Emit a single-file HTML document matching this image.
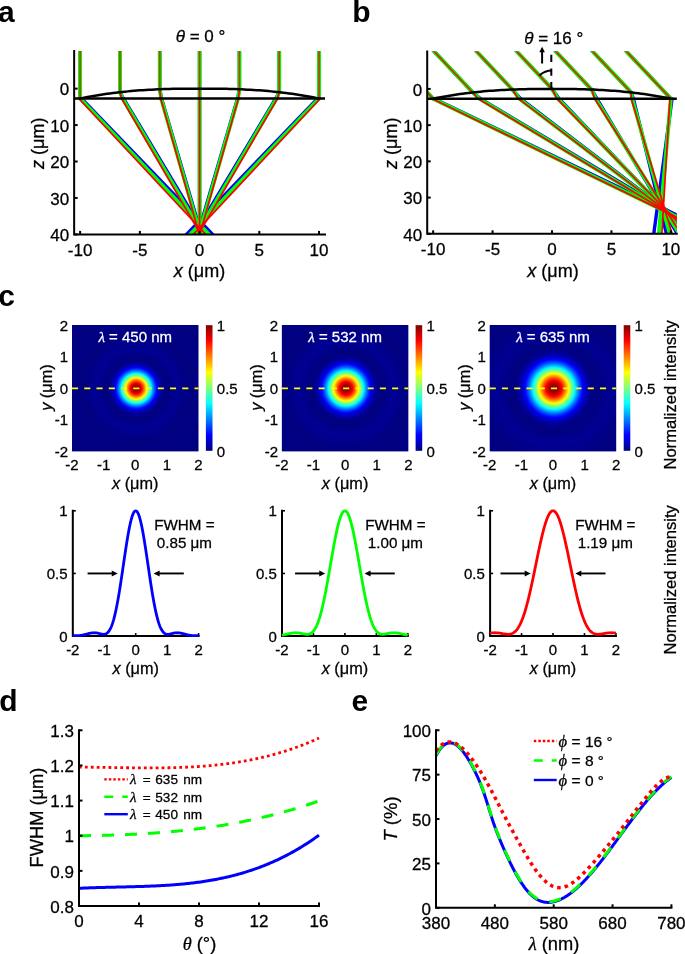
<!DOCTYPE html>
<html><head><meta charset="utf-8"><style>html,body{margin:0;padding:0;background:#fff;width:685px;height:954px;overflow:hidden}svg{display:block;will-change:transform}</style></head>
<body><svg width="685" height="954" viewBox="0 0 685 954" font-family='"Liberation Sans", sans-serif'><rect width="685" height="954" fill="#fff"/>
<text x="-2.1" y="22" font-size="30" text-anchor="start" font-weight="bold" font-style="normal" fill="#000" >a</text>
<clipPath id="clipA"><rect x="74.15" y="51.1" width="250.85" height="183.3"/></clipPath>
<g clip-path="url(#clipA)">
<polyline points="80.12,44.9 80.12,98.47 81.44,98.47 282.9,307.28" fill="none" stroke="#0000ff" stroke-width="3.4" stroke-linejoin="round" />
<polyline points="119.94,44.9 119.94,92.21 123.39,98.47 248.55,307.28" fill="none" stroke="#0000ff" stroke-width="3.4" stroke-linejoin="round" />
<polyline points="159.76,44.9 159.76,89.27 161.55,98.47 222.68,307.28" fill="none" stroke="#0000ff" stroke-width="3.4" stroke-linejoin="round" />
<polyline points="199.57,44.9 199.57,88.63 199.57,98.47 199.57,307.28" fill="none" stroke="#0000ff" stroke-width="3.4" stroke-linejoin="round" />
<polyline points="239.39,44.9 239.39,89.27 237.6,98.47 176.47,307.28" fill="none" stroke="#0000ff" stroke-width="3.4" stroke-linejoin="round" />
<polyline points="279.21,44.9 279.21,92.21 275.76,98.47 150.6,307.28" fill="none" stroke="#0000ff" stroke-width="3.4" stroke-linejoin="round" />
<polyline points="319.03,44.9 319.03,98.47 317.71,98.47 116.25,307.28" fill="none" stroke="#0000ff" stroke-width="3.4" stroke-linejoin="round" />
<polyline points="80.12,44.9 80.12,98.47 80.12,98.47 277.94,307.28" fill="none" stroke="#00ff00" stroke-width="3.9" stroke-linejoin="round" />
<polyline points="119.94,44.9 119.94,92.21 122.52,98.47 245.59,307.28" fill="none" stroke="#00ff00" stroke-width="3.9" stroke-linejoin="round" />
<polyline points="159.76,44.9 159.76,89.27 161.11,98.47 221.25,307.28" fill="none" stroke="#00ff00" stroke-width="3.9" stroke-linejoin="round" />
<polyline points="199.57,44.9 199.57,88.63 199.57,98.47 199.57,307.28" fill="none" stroke="#00ff00" stroke-width="3.9" stroke-linejoin="round" />
<polyline points="239.39,44.9 239.39,89.27 238.04,98.47 177.9,307.28" fill="none" stroke="#00ff00" stroke-width="3.9" stroke-linejoin="round" />
<polyline points="279.21,44.9 279.21,92.21 276.63,98.47 153.56,307.28" fill="none" stroke="#00ff00" stroke-width="3.9" stroke-linejoin="round" />
<polyline points="319.03,44.9 319.03,98.47 319.03,98.47 121.21,307.28" fill="none" stroke="#00ff00" stroke-width="3.9" stroke-linejoin="round" />
<polyline points="80.12,98.47 78.81,98.47 273.74,307.28" fill="none" stroke="#ff0000" stroke-width="1.7" stroke-linejoin="round" />
<polyline points="80.12,44.9 80.12,98.47" fill="none" stroke="#b84400" stroke-width="1.7" stroke-linejoin="round" />
<polyline points="119.94,92.21 121.64,98.47 243.06,307.28" fill="none" stroke="#ff0000" stroke-width="1.7" stroke-linejoin="round" />
<polyline points="119.94,44.9 119.94,92.21" fill="none" stroke="#b84400" stroke-width="1.7" stroke-linejoin="round" />
<polyline points="159.76,89.27 160.68,98.47 220.04,307.28" fill="none" stroke="#ff0000" stroke-width="1.7" stroke-linejoin="round" />
<polyline points="159.76,44.9 159.76,89.27" fill="none" stroke="#b84400" stroke-width="1.7" stroke-linejoin="round" />
<polyline points="199.57,88.63 199.57,98.47 199.57,307.28" fill="none" stroke="#ff0000" stroke-width="1.7" stroke-linejoin="round" />
<polyline points="199.57,44.9 199.57,88.63" fill="none" stroke="#b84400" stroke-width="1.7" stroke-linejoin="round" />
<polyline points="239.39,89.27 238.47,98.47 179.11,307.28" fill="none" stroke="#ff0000" stroke-width="1.7" stroke-linejoin="round" />
<polyline points="239.39,44.9 239.39,89.27" fill="none" stroke="#b84400" stroke-width="1.7" stroke-linejoin="round" />
<polyline points="279.21,92.21 277.51,98.47 156.09,307.28" fill="none" stroke="#ff0000" stroke-width="1.7" stroke-linejoin="round" />
<polyline points="279.21,44.9 279.21,92.21" fill="none" stroke="#b84400" stroke-width="1.7" stroke-linejoin="round" />
<polyline points="319.03,98.47 320.34,98.47 125.41,307.28" fill="none" stroke="#ff0000" stroke-width="1.7" stroke-linejoin="round" />
<polyline points="319.03,44.9 319.03,98.47" fill="none" stroke="#b84400" stroke-width="1.7" stroke-linejoin="round" />
</g>
<polyline points="80.12,98.47 83.11,97.87 86.1,97.29 89.08,96.73 92.07,96.2 95.05,95.68 98.04,95.19 101.03,94.72 104.01,94.27 107,93.84 109.99,93.43 112.97,93.04 115.96,92.67 118.94,92.32 121.93,91.99 124.92,91.67 127.9,91.38 130.89,91.1 133.88,90.84 136.86,90.6 139.85,90.37 142.84,90.16 145.82,89.97 148.81,89.79 151.79,89.63 154.78,89.48 157.77,89.35 160.75,89.23 163.74,89.12 166.73,89.02 169.71,88.94 172.7,88.87 175.68,88.81 178.67,88.76 181.66,88.72 184.64,88.69 187.63,88.67 190.62,88.65 193.6,88.64 196.59,88.64 199.57,88.63 202.56,88.64 205.55,88.64 208.53,88.65 211.52,88.67 214.51,88.69 217.49,88.72 220.48,88.76 223.47,88.81 226.45,88.87 229.44,88.94 232.42,89.02 235.41,89.12 238.4,89.23 241.38,89.35 244.37,89.48 247.36,89.63 250.34,89.79 253.33,89.97 256.31,90.16 259.3,90.37 262.29,90.6 265.27,90.84 268.26,91.1 271.25,91.38 274.23,91.67 277.22,91.99 280.21,92.32 283.19,92.67 286.18,93.04 289.16,93.43 292.15,93.84 295.14,94.27 298.12,94.72 301.11,95.19 304.1,95.68 307.08,96.2 310.07,96.73 313.05,97.29 316.04,97.87 319.03,98.47" fill="none" stroke="#000" stroke-width="2.5" stroke-linejoin="round" />
<line x1="74.15" y1="98.47" x2="325" y2="98.47" stroke="#000" stroke-width="2.4" />
<path d="M74.15,51.1 L74.15,234.4 L325,234.4" fill="none" stroke="#000" stroke-width="2" stroke-linecap="square"/>
<line x1="80.12" y1="234.4" x2="80.12" y2="230.9" stroke="#000" stroke-width="2" />
<text x="80.12" y="255.7" font-size="17" text-anchor="middle" font-weight="normal" font-style="normal" fill="#000" stroke="#000" stroke-width="0.28" >-10</text>
<line x1="139.85" y1="234.4" x2="139.85" y2="230.9" stroke="#000" stroke-width="2" />
<text x="139.85" y="255.7" font-size="17" text-anchor="middle" font-weight="normal" font-style="normal" fill="#000" stroke="#000" stroke-width="0.28" >-5</text>
<line x1="199.57" y1="234.4" x2="199.57" y2="230.9" stroke="#000" stroke-width="2" />
<text x="199.57" y="255.7" font-size="17" text-anchor="middle" font-weight="normal" font-style="normal" fill="#000" stroke="#000" stroke-width="0.28" >0</text>
<line x1="259.3" y1="234.4" x2="259.3" y2="230.9" stroke="#000" stroke-width="2" />
<text x="259.3" y="255.7" font-size="17" text-anchor="middle" font-weight="normal" font-style="normal" fill="#000" stroke="#000" stroke-width="0.28" >5</text>
<line x1="319.03" y1="234.4" x2="319.03" y2="230.9" stroke="#000" stroke-width="2" />
<text x="319.03" y="255.7" font-size="17" text-anchor="middle" font-weight="normal" font-style="normal" fill="#000" stroke="#000" stroke-width="0.28" >10</text>
<line x1="74.15" y1="88.63" x2="77.65" y2="88.63" stroke="#000" stroke-width="2" />
<text x="69.15" y="95.33" font-size="17" text-anchor="end" font-weight="normal" font-style="normal" fill="#000" stroke="#000" stroke-width="0.28" >0</text>
<line x1="74.15" y1="125.08" x2="77.65" y2="125.08" stroke="#000" stroke-width="2" />
<text x="69.15" y="131.78" font-size="17" text-anchor="end" font-weight="normal" font-style="normal" fill="#000" stroke="#000" stroke-width="0.28" >10</text>
<line x1="74.15" y1="161.52" x2="77.65" y2="161.52" stroke="#000" stroke-width="2" />
<text x="69.15" y="168.22" font-size="17" text-anchor="end" font-weight="normal" font-style="normal" fill="#000" stroke="#000" stroke-width="0.28" >20</text>
<line x1="74.15" y1="197.96" x2="77.65" y2="197.96" stroke="#000" stroke-width="2" />
<text x="69.15" y="204.66" font-size="17" text-anchor="end" font-weight="normal" font-style="normal" fill="#000" stroke="#000" stroke-width="0.28" >30</text>
<line x1="74.15" y1="234.4" x2="77.65" y2="234.4" stroke="#000" stroke-width="2" />
<text x="69.15" y="241.1" font-size="17" text-anchor="end" font-weight="normal" font-style="normal" fill="#000" stroke="#000" stroke-width="0.28" >40</text>
<text x="200.5" y="41.5" font-size="17" text-anchor="middle" font-weight="normal" font-style="normal" fill="#000" stroke="#000" stroke-width="0.28" ><tspan font-style="italic">θ</tspan> = 0 °</text>
<text x="199.5" y="277" font-size="18" text-anchor="middle" font-weight="normal" font-style="normal" fill="#000" stroke="#000" stroke-width="0.28" ><tspan font-style="italic">x</tspan> (μm)</text>
<text x="0" y="0" font-size="18" text-anchor="middle" font-weight="normal" font-style="normal" fill="#000" stroke="#000" stroke-width="0.28" transform="translate(43.5,143.3) rotate(-90)"><tspan font-style="italic">z</tspan> (μm)</text>
<text x="352.3" y="22" font-size="30" text-anchor="start" font-weight="bold" font-style="normal" fill="#000" >b</text>
<clipPath id="clipB"><rect x="427.2" y="51.6" width="249.59999999999997" height="182.20000000000002"/></clipPath>
<g clip-path="url(#clipB)">
<polyline points="383.04,45.44 433.14,98.69 434.33,98.69 866.58,306.25" fill="none" stroke="#0000ff" stroke-width="3.4" stroke-linejoin="round" />
<polyline points="428.52,45.44 472.76,92.46 480.38,98.69 827.3,306.25" fill="none" stroke="#0000ff" stroke-width="3.4" stroke-linejoin="round" />
<polyline points="470.89,45.44 512.38,89.54 520.51,98.69 791.98,306.25" fill="none" stroke="#0000ff" stroke-width="3.4" stroke-linejoin="round" />
<polyline points="511.1,45.44 552,88.91 559.07,98.69 756.65,306.25" fill="none" stroke="#0000ff" stroke-width="3.4" stroke-linejoin="round" />
<polyline points="550.13,45.44 591.62,89.54 596.84,98.69 720.56,306.25" fill="none" stroke="#0000ff" stroke-width="3.4" stroke-linejoin="round" />
<polyline points="587,45.44 631.24,92.46 633.33,98.69 684.23,306.25" fill="none" stroke="#0000ff" stroke-width="3.4" stroke-linejoin="round" />
<polyline points="620.76,45.44 670.86,98.69 672.05,98.69 643.97,306.25" fill="none" stroke="#0000ff" stroke-width="3.4" stroke-linejoin="round" />
<polyline points="383.04,45.44 433.14,98.69 433.14,98.69 860.91,306.25" fill="none" stroke="#00ff00" stroke-width="3.9" stroke-linejoin="round" />
<polyline points="428.52,45.44 472.76,92.46 479.19,98.69 824.12,306.25" fill="none" stroke="#00ff00" stroke-width="3.9" stroke-linejoin="round" />
<polyline points="470.89,45.44 512.38,89.54 519.32,98.69 791.05,306.25" fill="none" stroke="#00ff00" stroke-width="3.9" stroke-linejoin="round" />
<polyline points="511.1,45.44 552,88.91 557.88,98.69 757.96,306.25" fill="none" stroke="#00ff00" stroke-width="3.9" stroke-linejoin="round" />
<polyline points="550.13,45.44 591.62,89.54 595.65,98.69 724.16,306.25" fill="none" stroke="#00ff00" stroke-width="3.9" stroke-linejoin="round" />
<polyline points="587,45.44 631.24,92.46 632.14,98.69 690.12,306.25" fill="none" stroke="#00ff00" stroke-width="3.9" stroke-linejoin="round" />
<polyline points="620.76,45.44 670.86,98.69 670.86,98.69 652.41,306.25" fill="none" stroke="#00ff00" stroke-width="3.9" stroke-linejoin="round" />
<polyline points="433.14,98.69 432.19,98.69 859.94,306.25" fill="none" stroke="#ff0000" stroke-width="1.7" stroke-linejoin="round" />
<polyline points="383.04,45.44 433.14,98.69" fill="none" stroke="#e02800" stroke-width="1.7" stroke-linejoin="round" />
<polyline points="472.76,92.46 478.24,98.69 824.22,306.25" fill="none" stroke="#ff0000" stroke-width="1.7" stroke-linejoin="round" />
<polyline points="428.52,45.44 472.76,92.46" fill="none" stroke="#e02800" stroke-width="1.7" stroke-linejoin="round" />
<polyline points="512.38,89.54 518.37,98.69 792.12,306.25" fill="none" stroke="#ff0000" stroke-width="1.7" stroke-linejoin="round" />
<polyline points="470.89,45.44 512.38,89.54" fill="none" stroke="#e02800" stroke-width="1.7" stroke-linejoin="round" />
<polyline points="552,88.91 556.93,98.69 760.01,306.25" fill="none" stroke="#ff0000" stroke-width="1.7" stroke-linejoin="round" />
<polyline points="511.1,45.44 552,88.91" fill="none" stroke="#e02800" stroke-width="1.7" stroke-linejoin="round" />
<polyline points="591.62,89.54 594.7,98.69 727.2,306.25" fill="none" stroke="#ff0000" stroke-width="1.7" stroke-linejoin="round" />
<polyline points="550.13,45.44 591.62,89.54" fill="none" stroke="#e02800" stroke-width="1.7" stroke-linejoin="round" />
<polyline points="631.24,92.46 631.19,98.69 694.16,306.25" fill="none" stroke="#ff0000" stroke-width="1.7" stroke-linejoin="round" />
<polyline points="587,45.44 631.24,92.46" fill="none" stroke="#e02800" stroke-width="1.7" stroke-linejoin="round" />
<polyline points="670.86,98.69 669.91,98.69 657.54,306.25" fill="none" stroke="#ff0000" stroke-width="1.7" stroke-linejoin="round" />
<polyline points="620.76,45.44 670.86,98.69" fill="none" stroke="#e02800" stroke-width="1.7" stroke-linejoin="round" />
</g>
<polyline points="433.14,98.69 436.11,98.09 439.09,97.51 442.06,96.96 445.03,96.42 448,95.91 450.97,95.42 453.94,94.96 456.91,94.51 459.89,94.08 462.86,93.67 465.83,93.29 468.8,92.92 471.77,92.57 474.74,92.24 477.71,91.93 480.69,91.64 483.66,91.36 486.63,91.1 489.6,90.86 492.57,90.64 495.54,90.43 498.51,90.24 501.49,90.06 504.46,89.9 507.43,89.75 510.4,89.62 513.37,89.5 516.34,89.39 519.31,89.3 522.29,89.21 525.26,89.14 528.23,89.08 531.2,89.03 534.17,88.99 537.14,88.96 540.11,88.94 543.09,88.92 546.06,88.91 549.03,88.91 552,88.91 554.97,88.91 557.94,88.91 560.91,88.92 563.89,88.94 566.86,88.96 569.83,88.99 572.8,89.03 575.77,89.08 578.74,89.14 581.71,89.21 584.69,89.3 587.66,89.39 590.63,89.5 593.6,89.62 596.57,89.75 599.54,89.9 602.51,90.06 605.49,90.24 608.46,90.43 611.43,90.64 614.4,90.86 617.37,91.1 620.34,91.36 623.31,91.64 626.29,91.93 629.26,92.24 632.23,92.57 635.2,92.92 638.17,93.29 641.14,93.67 644.11,94.08 647.09,94.51 650.06,94.96 653.03,95.42 656,95.91 658.97,96.42 661.94,96.96 664.91,97.51 667.89,98.09 670.86,98.69" fill="none" stroke="#000" stroke-width="2.5" stroke-linejoin="round" />
<line x1="427.2" y1="98.69" x2="676.8" y2="98.69" stroke="#000" stroke-width="2.4" />
<path d="M427.2,51.6 L427.2,233.8 L676.8,233.8" fill="none" stroke="#000" stroke-width="2" stroke-linecap="square"/>
<line x1="433.14" y1="233.8" x2="433.14" y2="230.3" stroke="#000" stroke-width="2" />
<text x="433.14" y="255.1" font-size="17" text-anchor="middle" font-weight="normal" font-style="normal" fill="#000" stroke="#000" stroke-width="0.28" >-10</text>
<line x1="492.57" y1="233.8" x2="492.57" y2="230.3" stroke="#000" stroke-width="2" />
<text x="492.57" y="255.1" font-size="17" text-anchor="middle" font-weight="normal" font-style="normal" fill="#000" stroke="#000" stroke-width="0.28" >-5</text>
<line x1="552" y1="233.8" x2="552" y2="230.3" stroke="#000" stroke-width="2" />
<text x="552" y="255.1" font-size="17" text-anchor="middle" font-weight="normal" font-style="normal" fill="#000" stroke="#000" stroke-width="0.28" >0</text>
<line x1="611.43" y1="233.8" x2="611.43" y2="230.3" stroke="#000" stroke-width="2" />
<text x="611.43" y="255.1" font-size="17" text-anchor="middle" font-weight="normal" font-style="normal" fill="#000" stroke="#000" stroke-width="0.28" >5</text>
<line x1="670.86" y1="233.8" x2="670.86" y2="230.3" stroke="#000" stroke-width="2" />
<text x="670.86" y="255.1" font-size="17" text-anchor="middle" font-weight="normal" font-style="normal" fill="#000" stroke="#000" stroke-width="0.28" >10</text>
<line x1="427.2" y1="88.91" x2="430.7" y2="88.91" stroke="#000" stroke-width="2" />
<text x="422.2" y="95.61" font-size="17" text-anchor="end" font-weight="normal" font-style="normal" fill="#000" stroke="#000" stroke-width="0.28" >0</text>
<line x1="427.2" y1="125.13" x2="430.7" y2="125.13" stroke="#000" stroke-width="2" />
<text x="422.2" y="131.83" font-size="17" text-anchor="end" font-weight="normal" font-style="normal" fill="#000" stroke="#000" stroke-width="0.28" >10</text>
<line x1="427.2" y1="161.35" x2="430.7" y2="161.35" stroke="#000" stroke-width="2" />
<text x="422.2" y="168.05" font-size="17" text-anchor="end" font-weight="normal" font-style="normal" fill="#000" stroke="#000" stroke-width="0.28" >20</text>
<line x1="427.2" y1="197.58" x2="430.7" y2="197.58" stroke="#000" stroke-width="2" />
<text x="422.2" y="204.28" font-size="17" text-anchor="end" font-weight="normal" font-style="normal" fill="#000" stroke="#000" stroke-width="0.28" >30</text>
<line x1="427.2" y1="233.8" x2="430.7" y2="233.8" stroke="#000" stroke-width="2" />
<text x="422.2" y="240.5" font-size="17" text-anchor="end" font-weight="normal" font-style="normal" fill="#000" stroke="#000" stroke-width="0.28" >40</text>
<line x1="551.3" y1="54.8" x2="551.3" y2="88.91" stroke="#000" stroke-width="2" stroke-dasharray="7.3,6.3"/>
<line x1="542.1" y1="63.5" x2="542.1" y2="51.3" stroke="#000" stroke-width="2" />
<polygon points="542.1,46.8 544.9,52.3 539.3,52.3" fill="#000"/>
<path d="M539.5,75.54 A18.3,18.3 0 0 1 552,70.61" fill="none" stroke="#000" stroke-width="2"/>
<text x="553.7" y="43.5" font-size="17" text-anchor="middle" font-weight="normal" font-style="normal" fill="#000" stroke="#000" stroke-width="0.28" ><tspan font-style="italic">θ</tspan> = 16 °</text>
<text x="553" y="277" font-size="18" text-anchor="middle" font-weight="normal" font-style="normal" fill="#000" stroke="#000" stroke-width="0.28" ><tspan font-style="italic">x</tspan> (μm)</text>
<text x="0" y="0" font-size="18" text-anchor="middle" font-weight="normal" font-style="normal" fill="#000" stroke="#000" stroke-width="0.28" transform="translate(397,143.3) rotate(-90)"><tspan font-style="italic">z</tspan> (μm)</text>
<text x="-1.7" y="306.1" font-size="30" text-anchor="start" font-weight="bold" font-style="normal" fill="#000" >c</text>
<defs><radialGradient id="rg1" gradientUnits="userSpaceOnUse" cx="136.15" cy="388.4" r="93.41"><stop offset="0.0000" stop-color="#800000"/><stop offset="0.0063" stop-color="#810000"/><stop offset="0.0126" stop-color="#850000"/><stop offset="0.0189" stop-color="#8c0000"/><stop offset="0.0252" stop-color="#960000"/><stop offset="0.0314" stop-color="#a20000"/><stop offset="0.0377" stop-color="#b10000"/><stop offset="0.0440" stop-color="#c30000"/><stop offset="0.0503" stop-color="#d70000"/><stop offset="0.0566" stop-color="#ed0000"/><stop offset="0.0629" stop-color="#ff0600"/><stop offset="0.0692" stop-color="#ff2000"/><stop offset="0.0755" stop-color="#ff3c00"/><stop offset="0.0818" stop-color="#ff5900"/><stop offset="0.0881" stop-color="#ff7800"/><stop offset="0.0943" stop-color="#ff9800"/><stop offset="0.1006" stop-color="#ffb800"/><stop offset="0.1069" stop-color="#ffda00"/><stop offset="0.1132" stop-color="#fffc00"/><stop offset="0.1195" stop-color="#dfff20"/><stop offset="0.1258" stop-color="#bcff43"/><stop offset="0.1321" stop-color="#99ff66"/><stop offset="0.1384" stop-color="#76ff89"/><stop offset="0.1447" stop-color="#54ffab"/><stop offset="0.1509" stop-color="#32ffcd"/><stop offset="0.1572" stop-color="#11ffee"/><stop offset="0.1635" stop-color="#00f0ff"/><stop offset="0.1698" stop-color="#00d0ff"/><stop offset="0.1761" stop-color="#00b2ff"/><stop offset="0.1824" stop-color="#0095ff"/><stop offset="0.1887" stop-color="#007aff"/><stop offset="0.1950" stop-color="#005fff"/><stop offset="0.2013" stop-color="#0047ff"/><stop offset="0.2075" stop-color="#002fff"/><stop offset="0.2138" stop-color="#001aff"/><stop offset="0.2201" stop-color="#0006ff"/><stop offset="0.2264" stop-color="#0000f2"/><stop offset="0.2327" stop-color="#0000e1"/><stop offset="0.2390" stop-color="#0000d2"/><stop offset="0.2453" stop-color="#0000c4"/><stop offset="0.2516" stop-color="#0000b7"/><stop offset="0.2579" stop-color="#0000ad"/><stop offset="0.2642" stop-color="#0000a3"/><stop offset="0.2704" stop-color="#00009b"/><stop offset="0.2767" stop-color="#000094"/><stop offset="0.2830" stop-color="#00008e"/><stop offset="0.2893" stop-color="#00008a"/><stop offset="0.2956" stop-color="#000086"/><stop offset="0.3019" stop-color="#000083"/><stop offset="0.3082" stop-color="#000081"/><stop offset="0.3145" stop-color="#000080"/><stop offset="0.3208" stop-color="#000080"/><stop offset="0.3270" stop-color="#000080"/><stop offset="0.3333" stop-color="#000080"/><stop offset="0.3396" stop-color="#000081"/><stop offset="0.3459" stop-color="#000082"/><stop offset="0.3522" stop-color="#000083"/><stop offset="0.3585" stop-color="#000085"/><stop offset="0.3648" stop-color="#000086"/><stop offset="0.3711" stop-color="#000088"/><stop offset="0.3774" stop-color="#000089"/><stop offset="0.3836" stop-color="#00008b"/><stop offset="0.3899" stop-color="#00008c"/><stop offset="0.3962" stop-color="#00008e"/><stop offset="0.4025" stop-color="#00008f"/><stop offset="0.4088" stop-color="#000090"/><stop offset="0.4151" stop-color="#000090"/><stop offset="0.4214" stop-color="#000091"/><stop offset="0.4277" stop-color="#000091"/><stop offset="0.4340" stop-color="#000091"/><stop offset="0.4403" stop-color="#000091"/><stop offset="0.4465" stop-color="#000091"/><stop offset="0.4528" stop-color="#000091"/><stop offset="0.4591" stop-color="#000090"/><stop offset="0.4654" stop-color="#00008f"/><stop offset="0.4717" stop-color="#00008e"/><stop offset="0.4780" stop-color="#00008d"/><stop offset="0.4843" stop-color="#00008c"/><stop offset="0.4906" stop-color="#00008b"/><stop offset="0.4969" stop-color="#00008a"/><stop offset="0.5031" stop-color="#000089"/><stop offset="0.5094" stop-color="#000088"/><stop offset="0.5157" stop-color="#000087"/><stop offset="0.5220" stop-color="#000086"/><stop offset="0.5283" stop-color="#000085"/><stop offset="0.5346" stop-color="#000084"/><stop offset="0.5409" stop-color="#000083"/><stop offset="0.5472" stop-color="#000082"/><stop offset="0.5535" stop-color="#000081"/><stop offset="0.5597" stop-color="#000081"/><stop offset="0.5660" stop-color="#000080"/><stop offset="0.5723" stop-color="#000080"/><stop offset="0.5786" stop-color="#000080"/><stop offset="0.5849" stop-color="#000080"/><stop offset="0.5912" stop-color="#000080"/><stop offset="0.5975" stop-color="#000080"/><stop offset="0.6038" stop-color="#000080"/><stop offset="0.6101" stop-color="#000080"/><stop offset="0.6164" stop-color="#000080"/><stop offset="0.6226" stop-color="#000080"/><stop offset="0.6289" stop-color="#000081"/><stop offset="0.6352" stop-color="#000081"/><stop offset="0.6415" stop-color="#000081"/><stop offset="0.6478" stop-color="#000082"/><stop offset="0.6541" stop-color="#000082"/><stop offset="0.6604" stop-color="#000082"/><stop offset="0.6667" stop-color="#000083"/><stop offset="0.6730" stop-color="#000083"/><stop offset="0.6792" stop-color="#000083"/><stop offset="0.6855" stop-color="#000083"/><stop offset="0.6918" stop-color="#000084"/><stop offset="0.6981" stop-color="#000084"/><stop offset="0.7044" stop-color="#000084"/><stop offset="0.7107" stop-color="#000084"/><stop offset="0.7170" stop-color="#000084"/><stop offset="0.7233" stop-color="#000084"/><stop offset="0.7296" stop-color="#000084"/><stop offset="0.7358" stop-color="#000083"/><stop offset="0.7421" stop-color="#000083"/><stop offset="0.7484" stop-color="#000083"/><stop offset="0.7547" stop-color="#000083"/><stop offset="0.7610" stop-color="#000083"/><stop offset="0.7673" stop-color="#000082"/><stop offset="0.7736" stop-color="#000082"/><stop offset="0.7799" stop-color="#000082"/><stop offset="0.7862" stop-color="#000081"/><stop offset="0.7925" stop-color="#000081"/><stop offset="0.7987" stop-color="#000081"/><stop offset="0.8050" stop-color="#000081"/><stop offset="0.8113" stop-color="#000080"/><stop offset="0.8176" stop-color="#000080"/><stop offset="0.8239" stop-color="#000080"/><stop offset="0.8302" stop-color="#000080"/><stop offset="0.8365" stop-color="#000080"/><stop offset="0.8428" stop-color="#000080"/><stop offset="0.8491" stop-color="#000080"/><stop offset="0.8553" stop-color="#000080"/><stop offset="0.8616" stop-color="#000080"/><stop offset="0.8679" stop-color="#000080"/><stop offset="0.8742" stop-color="#000080"/><stop offset="0.8805" stop-color="#000080"/><stop offset="0.8868" stop-color="#000080"/><stop offset="0.8931" stop-color="#000080"/><stop offset="0.8994" stop-color="#000080"/><stop offset="0.9057" stop-color="#000080"/><stop offset="0.9119" stop-color="#000080"/><stop offset="0.9182" stop-color="#000080"/><stop offset="0.9245" stop-color="#000080"/><stop offset="0.9308" stop-color="#000081"/><stop offset="0.9371" stop-color="#000081"/><stop offset="0.9434" stop-color="#000081"/><stop offset="0.9497" stop-color="#000081"/><stop offset="0.9560" stop-color="#000081"/><stop offset="0.9623" stop-color="#000081"/><stop offset="0.9686" stop-color="#000081"/><stop offset="0.9748" stop-color="#000081"/><stop offset="0.9811" stop-color="#000081"/><stop offset="0.9874" stop-color="#000081"/><stop offset="0.9937" stop-color="#000081"/><stop offset="1.0000" stop-color="#000081"/></radialGradient></defs>
<rect x="72" y="325" width="126.5" height="126.4" fill="url(#rg1)"/>
<line x1="72" y1="388.4" x2="198.5" y2="388.4" stroke="#ffff00" stroke-width="1.6" stroke-dasharray="6.1,6.15"/>
<text x="135.25" y="342.3" font-size="15" text-anchor="middle" font-weight="normal" font-style="normal" fill="#fff" stroke="#fff" stroke-width="0.28" ><tspan font-family="Liberation Serif" font-style="italic">λ</tspan> = 450 nm</text>
<defs><linearGradient id="cb1" x1="0" y1="0" x2="0" y2="1"><stop offset="0.0000" stop-color="#800000"/><stop offset="0.0156" stop-color="#8f0000"/><stop offset="0.0312" stop-color="#9f0000"/><stop offset="0.0469" stop-color="#af0000"/><stop offset="0.0625" stop-color="#bf0000"/><stop offset="0.0781" stop-color="#cf0000"/><stop offset="0.0938" stop-color="#df0000"/><stop offset="0.1094" stop-color="#ef0000"/><stop offset="0.1250" stop-color="#ff0000"/><stop offset="0.1406" stop-color="#ff1000"/><stop offset="0.1562" stop-color="#ff2000"/><stop offset="0.1719" stop-color="#ff3000"/><stop offset="0.1875" stop-color="#ff4000"/><stop offset="0.2031" stop-color="#ff5000"/><stop offset="0.2188" stop-color="#ff6000"/><stop offset="0.2344" stop-color="#ff7000"/><stop offset="0.2500" stop-color="#ff8000"/><stop offset="0.2656" stop-color="#ff8f00"/><stop offset="0.2812" stop-color="#ff9f00"/><stop offset="0.2969" stop-color="#ffaf00"/><stop offset="0.3125" stop-color="#ffbf00"/><stop offset="0.3281" stop-color="#ffcf00"/><stop offset="0.3438" stop-color="#ffdf00"/><stop offset="0.3594" stop-color="#ffef00"/><stop offset="0.3750" stop-color="#ffff00"/><stop offset="0.3906" stop-color="#efff10"/><stop offset="0.4062" stop-color="#dfff20"/><stop offset="0.4219" stop-color="#cfff30"/><stop offset="0.4375" stop-color="#bfff40"/><stop offset="0.4531" stop-color="#afff50"/><stop offset="0.4688" stop-color="#9fff60"/><stop offset="0.4844" stop-color="#8fff70"/><stop offset="0.5000" stop-color="#80ff80"/><stop offset="0.5156" stop-color="#70ff8f"/><stop offset="0.5312" stop-color="#60ff9f"/><stop offset="0.5469" stop-color="#50ffaf"/><stop offset="0.5625" stop-color="#40ffbf"/><stop offset="0.5781" stop-color="#30ffcf"/><stop offset="0.5938" stop-color="#20ffdf"/><stop offset="0.6094" stop-color="#10ffef"/><stop offset="0.6250" stop-color="#00ffff"/><stop offset="0.6406" stop-color="#00efff"/><stop offset="0.6562" stop-color="#00dfff"/><stop offset="0.6719" stop-color="#00cfff"/><stop offset="0.6875" stop-color="#00bfff"/><stop offset="0.7031" stop-color="#00afff"/><stop offset="0.7188" stop-color="#009fff"/><stop offset="0.7344" stop-color="#008fff"/><stop offset="0.7500" stop-color="#0080ff"/><stop offset="0.7656" stop-color="#0070ff"/><stop offset="0.7812" stop-color="#0060ff"/><stop offset="0.7969" stop-color="#0050ff"/><stop offset="0.8125" stop-color="#0040ff"/><stop offset="0.8281" stop-color="#0030ff"/><stop offset="0.8438" stop-color="#0020ff"/><stop offset="0.8594" stop-color="#0010ff"/><stop offset="0.8750" stop-color="#0000ff"/><stop offset="0.8906" stop-color="#0000ef"/><stop offset="0.9062" stop-color="#0000df"/><stop offset="0.9219" stop-color="#0000cf"/><stop offset="0.9375" stop-color="#0000bf"/><stop offset="0.9531" stop-color="#0000af"/><stop offset="0.9688" stop-color="#00009f"/><stop offset="0.9844" stop-color="#00008f"/><stop offset="1.0000" stop-color="#000080"/></linearGradient></defs>
<rect x="205.9" y="325.2" width="6.6" height="125.6" fill="url(#cb1)"/>
<text x="216.8" y="330.6" font-size="15" text-anchor="start" font-weight="normal" font-style="normal" fill="#000" stroke="#000" stroke-width="0.28" >1</text>
<text x="216.8" y="393.8" font-size="15" text-anchor="start" font-weight="normal" font-style="normal" fill="#000" stroke="#000" stroke-width="0.28" >0.5</text>
<text x="216.8" y="457" font-size="15" text-anchor="start" font-weight="normal" font-style="normal" fill="#000" stroke="#000" stroke-width="0.28" >0</text>
<text x="72" y="469.7" font-size="15" text-anchor="middle" font-weight="normal" font-style="normal" fill="#000" stroke="#000" stroke-width="0.28" >-2</text>
<text x="68.2" y="456.9" font-size="15" text-anchor="end" font-weight="normal" font-style="normal" fill="#000" stroke="#000" stroke-width="0.28" >-2</text>
<text x="103.62" y="469.7" font-size="15" text-anchor="middle" font-weight="normal" font-style="normal" fill="#000" stroke="#000" stroke-width="0.28" >-1</text>
<text x="68.2" y="425.3" font-size="15" text-anchor="end" font-weight="normal" font-style="normal" fill="#000" stroke="#000" stroke-width="0.28" >-1</text>
<text x="135.25" y="469.7" font-size="15" text-anchor="middle" font-weight="normal" font-style="normal" fill="#000" stroke="#000" stroke-width="0.28" >0</text>
<text x="68.2" y="393.7" font-size="15" text-anchor="end" font-weight="normal" font-style="normal" fill="#000" stroke="#000" stroke-width="0.28" >0</text>
<text x="166.88" y="469.7" font-size="15" text-anchor="middle" font-weight="normal" font-style="normal" fill="#000" stroke="#000" stroke-width="0.28" >1</text>
<text x="68.2" y="362.1" font-size="15" text-anchor="end" font-weight="normal" font-style="normal" fill="#000" stroke="#000" stroke-width="0.28" >1</text>
<text x="198.5" y="469.7" font-size="15" text-anchor="middle" font-weight="normal" font-style="normal" fill="#000" stroke="#000" stroke-width="0.28" >2</text>
<text x="68.2" y="330.5" font-size="15" text-anchor="end" font-weight="normal" font-style="normal" fill="#000" stroke="#000" stroke-width="0.28" >2</text>
<text x="135.25" y="488.5" font-size="16.3" text-anchor="middle" font-weight="normal" font-style="normal" fill="#000" stroke="#000" stroke-width="0.28" ><tspan font-style="italic">x</tspan> (μm)</text>
<text x="0" y="0" font-size="16.3" text-anchor="middle" font-weight="normal" font-style="normal" fill="#000" stroke="#000" stroke-width="0.28" transform="translate(52.2,387.6) rotate(-90)"><tspan font-style="italic">y</tspan> (μm)</text>
<path d="M72.8,510.8 L72.8,636.1 L198.6,636.1" fill="none" stroke="#000" stroke-width="2" stroke-linecap="square"/>
<line x1="72.8" y1="636.1" x2="72.8" y2="633.1" stroke="#000" stroke-width="1.6" />
<text x="72.8" y="655.3" font-size="15" text-anchor="middle" font-weight="normal" font-style="normal" fill="#000" stroke="#000" stroke-width="0.28" >-2</text>
<line x1="104.25" y1="636.1" x2="104.25" y2="633.1" stroke="#000" stroke-width="1.6" />
<text x="104.25" y="655.3" font-size="15" text-anchor="middle" font-weight="normal" font-style="normal" fill="#000" stroke="#000" stroke-width="0.28" >-1</text>
<line x1="135.7" y1="636.1" x2="135.7" y2="633.1" stroke="#000" stroke-width="1.6" />
<text x="135.7" y="655.3" font-size="15" text-anchor="middle" font-weight="normal" font-style="normal" fill="#000" stroke="#000" stroke-width="0.28" >0</text>
<line x1="167.15" y1="636.1" x2="167.15" y2="633.1" stroke="#000" stroke-width="1.6" />
<text x="167.15" y="655.3" font-size="15" text-anchor="middle" font-weight="normal" font-style="normal" fill="#000" stroke="#000" stroke-width="0.28" >1</text>
<line x1="198.6" y1="636.1" x2="198.6" y2="633.1" stroke="#000" stroke-width="1.6" />
<text x="198.6" y="655.3" font-size="15" text-anchor="middle" font-weight="normal" font-style="normal" fill="#000" stroke="#000" stroke-width="0.28" >2</text>
<line x1="72.8" y1="636.1" x2="75.8" y2="636.1" stroke="#000" stroke-width="1.6" />
<text x="67.6" y="641.7" font-size="15" text-anchor="end" font-weight="normal" font-style="normal" fill="#000" stroke="#000" stroke-width="0.28" >0</text>
<line x1="72.8" y1="573.45" x2="75.8" y2="573.45" stroke="#000" stroke-width="1.6" />
<text x="67.6" y="579.05" font-size="15" text-anchor="end" font-weight="normal" font-style="normal" fill="#000" stroke="#000" stroke-width="0.28" >0.5</text>
<line x1="72.8" y1="510.8" x2="75.8" y2="510.8" stroke="#000" stroke-width="1.6" />
<text x="67.6" y="516.4" font-size="15" text-anchor="end" font-weight="normal" font-style="normal" fill="#000" stroke="#000" stroke-width="0.28" >1</text>
<polyline points="72.8,635.52 73.43,635.55 74.06,635.57 74.69,635.59 75.32,635.61 75.94,635.62 76.57,635.62 77.2,635.61 77.83,635.6 78.46,635.57 79.09,635.53 79.72,635.48 80.35,635.41 80.98,635.33 81.61,635.24 82.23,635.13 82.86,635.01 83.49,634.88 84.12,634.74 84.75,634.59 85.38,634.43 86.01,634.26 86.64,634.1 87.27,633.93 87.9,633.76 88.52,633.6 89.15,633.44 89.78,633.3 90.41,633.17 91.04,633.05 91.67,632.95 92.3,632.87 92.93,632.81 93.56,632.78 94.19,632.77 94.81,632.79 95.44,632.83 96.07,632.89 96.7,632.98 97.33,633.09 97.96,633.22 98.59,633.37 99.22,633.52 99.85,633.68 100.48,633.83 101.1,633.98 101.73,634.11 102.36,634.21 102.99,634.28 103.62,634.3 104.25,634.27 104.88,634.17 105.51,633.99 106.14,633.73 106.77,633.36 107.39,632.88 108.02,632.27 108.65,631.53 109.28,630.64 109.91,629.59 110.54,628.37 111.17,626.98 111.8,625.41 112.43,623.65 113.06,621.7 113.69,619.55 114.31,617.2 114.94,614.65 115.57,611.91 116.2,608.97 116.83,605.84 117.46,602.54 118.09,599.06 118.72,595.42 119.35,591.64 119.97,587.72 120.6,583.69 121.23,579.57 121.86,575.36 122.49,571.1 123.12,566.81 123.75,562.51 124.38,558.22 125.01,553.98 125.64,549.79 126.26,545.7 126.89,541.73 127.52,537.9 128.15,534.24 128.78,530.76 129.41,527.51 130.04,524.49 130.67,521.72 131.3,519.24 131.93,517.05 132.56,515.17 133.18,513.61 133.81,512.39 134.44,511.51 135.07,510.98 135.7,510.8 136.33,510.98 136.96,511.51 137.59,512.39 138.22,513.61 138.84,515.17 139.47,517.05 140.1,519.24 140.73,521.72 141.36,524.49 141.99,527.51 142.62,530.76 143.25,534.24 143.88,537.9 144.51,541.73 145.13,545.7 145.76,549.79 146.39,553.98 147.02,558.22 147.65,562.51 148.28,566.81 148.91,571.1 149.54,575.36 150.17,579.57 150.8,583.69 151.43,587.72 152.05,591.64 152.68,595.42 153.31,599.06 153.94,602.54 154.57,605.84 155.2,608.97 155.83,611.91 156.46,614.65 157.09,617.2 157.72,619.55 158.34,621.7 158.97,623.65 159.6,625.41 160.23,626.98 160.86,628.37 161.49,629.59 162.12,630.64 162.75,631.53 163.38,632.27 164,632.88 164.63,633.36 165.26,633.73 165.89,633.99 166.52,634.17 167.15,634.27 167.78,634.3 168.41,634.28 169.04,634.21 169.67,634.11 170.3,633.98 170.92,633.83 171.55,633.68 172.18,633.52 172.81,633.37 173.44,633.22 174.07,633.09 174.7,632.98 175.33,632.89 175.96,632.83 176.59,632.79 177.21,632.77 177.84,632.78 178.47,632.81 179.1,632.87 179.73,632.95 180.36,633.05 180.99,633.17 181.62,633.3 182.25,633.44 182.88,633.6 183.5,633.76 184.13,633.93 184.76,634.1 185.39,634.26 186.02,634.43 186.65,634.59 187.28,634.74 187.91,634.88 188.54,635.01 189.17,635.13 189.79,635.24 190.42,635.33 191.05,635.41 191.68,635.48 192.31,635.53 192.94,635.57 193.57,635.6 194.2,635.61 194.83,635.62 195.45,635.62 196.08,635.61 196.71,635.59 197.34,635.57 197.97,635.55 198.6,635.52" fill="none" stroke="#0000ff" stroke-width="2.8" stroke-linejoin="round" />
<text x="135.7" y="673.5" font-size="16.3" text-anchor="middle" font-weight="normal" font-style="normal" fill="#000" stroke="#000" stroke-width="0.28" ><tspan font-style="italic">x</tspan> (μm)</text>
<line x1="87.58" y1="573.45" x2="112.77" y2="573.45" stroke="#000" stroke-width="1.9" />
<polygon points="117.77,573.45 111.77,576.45 111.77,570.45" fill="#000"/>
<line x1="183.82" y1="573.45" x2="158.63" y2="573.45" stroke="#000" stroke-width="1.9" />
<polygon points="153.63,573.45 159.63,570.45 159.63,576.45" fill="#000"/>
<text x="184.4" y="530.3" font-size="15.2" text-anchor="middle" font-weight="normal" font-style="normal" fill="#000" stroke="#000" stroke-width="0.28" >FWHM =</text>
<text x="184.4" y="548.3" font-size="15.2" text-anchor="middle" font-weight="normal" font-style="normal" fill="#000" stroke="#000" stroke-width="0.28" >0.85 μm</text>
<defs><radialGradient id="rg2" gradientUnits="userSpaceOnUse" cx="346" cy="388.4" r="93.41"><stop offset="0.0000" stop-color="#800000"/><stop offset="0.0063" stop-color="#810000"/><stop offset="0.0126" stop-color="#840000"/><stop offset="0.0189" stop-color="#890000"/><stop offset="0.0252" stop-color="#900000"/><stop offset="0.0314" stop-color="#990000"/><stop offset="0.0377" stop-color="#a40000"/><stop offset="0.0440" stop-color="#b00000"/><stop offset="0.0503" stop-color="#bf0000"/><stop offset="0.0566" stop-color="#cf0000"/><stop offset="0.0629" stop-color="#e10000"/><stop offset="0.0692" stop-color="#f50000"/><stop offset="0.0755" stop-color="#ff0b00"/><stop offset="0.0818" stop-color="#ff2100"/><stop offset="0.0881" stop-color="#ff3900"/><stop offset="0.0943" stop-color="#ff5100"/><stop offset="0.1006" stop-color="#ff6b00"/><stop offset="0.1069" stop-color="#ff8600"/><stop offset="0.1132" stop-color="#ffa100"/><stop offset="0.1195" stop-color="#ffbd00"/><stop offset="0.1258" stop-color="#ffda00"/><stop offset="0.1321" stop-color="#fff700"/><stop offset="0.1384" stop-color="#e9ff16"/><stop offset="0.1447" stop-color="#ccff33"/><stop offset="0.1509" stop-color="#aeff51"/><stop offset="0.1572" stop-color="#90ff6f"/><stop offset="0.1635" stop-color="#73ff8c"/><stop offset="0.1698" stop-color="#56ffa9"/><stop offset="0.1761" stop-color="#39ffc6"/><stop offset="0.1824" stop-color="#1dffe2"/><stop offset="0.1887" stop-color="#01fffe"/><stop offset="0.1950" stop-color="#00e5ff"/><stop offset="0.2013" stop-color="#00caff"/><stop offset="0.2075" stop-color="#00b1ff"/><stop offset="0.2138" stop-color="#0098ff"/><stop offset="0.2201" stop-color="#0080ff"/><stop offset="0.2264" stop-color="#006aff"/><stop offset="0.2327" stop-color="#0054ff"/><stop offset="0.2390" stop-color="#003fff"/><stop offset="0.2453" stop-color="#002cff"/><stop offset="0.2516" stop-color="#001aff"/><stop offset="0.2579" stop-color="#0008ff"/><stop offset="0.2642" stop-color="#0000f7"/><stop offset="0.2704" stop-color="#0000e8"/><stop offset="0.2767" stop-color="#0000db"/><stop offset="0.2830" stop-color="#0000ce"/><stop offset="0.2893" stop-color="#0000c3"/><stop offset="0.2956" stop-color="#0000b8"/><stop offset="0.3019" stop-color="#0000af"/><stop offset="0.3082" stop-color="#0000a6"/><stop offset="0.3145" stop-color="#00009f"/><stop offset="0.3208" stop-color="#000098"/><stop offset="0.3270" stop-color="#000093"/><stop offset="0.3333" stop-color="#00008e"/><stop offset="0.3396" stop-color="#00008a"/><stop offset="0.3459" stop-color="#000087"/><stop offset="0.3522" stop-color="#000084"/><stop offset="0.3585" stop-color="#000082"/><stop offset="0.3648" stop-color="#000081"/><stop offset="0.3711" stop-color="#000080"/><stop offset="0.3774" stop-color="#000080"/><stop offset="0.3836" stop-color="#000080"/><stop offset="0.3899" stop-color="#000080"/><stop offset="0.3962" stop-color="#000080"/><stop offset="0.4025" stop-color="#000081"/><stop offset="0.4088" stop-color="#000082"/><stop offset="0.4151" stop-color="#000083"/><stop offset="0.4214" stop-color="#000085"/><stop offset="0.4277" stop-color="#000086"/><stop offset="0.4340" stop-color="#000087"/><stop offset="0.4403" stop-color="#000089"/><stop offset="0.4465" stop-color="#00008a"/><stop offset="0.4528" stop-color="#00008b"/><stop offset="0.4591" stop-color="#00008c"/><stop offset="0.4654" stop-color="#00008e"/><stop offset="0.4717" stop-color="#00008e"/><stop offset="0.4780" stop-color="#00008f"/><stop offset="0.4843" stop-color="#000090"/><stop offset="0.4906" stop-color="#000091"/><stop offset="0.4969" stop-color="#000091"/><stop offset="0.5031" stop-color="#000091"/><stop offset="0.5094" stop-color="#000091"/><stop offset="0.5157" stop-color="#000091"/><stop offset="0.5220" stop-color="#000091"/><stop offset="0.5283" stop-color="#000091"/><stop offset="0.5346" stop-color="#000090"/><stop offset="0.5409" stop-color="#000090"/><stop offset="0.5472" stop-color="#00008f"/><stop offset="0.5535" stop-color="#00008f"/><stop offset="0.5597" stop-color="#00008e"/><stop offset="0.5660" stop-color="#00008d"/><stop offset="0.5723" stop-color="#00008c"/><stop offset="0.5786" stop-color="#00008b"/><stop offset="0.5849" stop-color="#00008a"/><stop offset="0.5912" stop-color="#000089"/><stop offset="0.5975" stop-color="#000088"/><stop offset="0.6038" stop-color="#000087"/><stop offset="0.6101" stop-color="#000086"/><stop offset="0.6164" stop-color="#000085"/><stop offset="0.6226" stop-color="#000084"/><stop offset="0.6289" stop-color="#000084"/><stop offset="0.6352" stop-color="#000083"/><stop offset="0.6415" stop-color="#000082"/><stop offset="0.6478" stop-color="#000082"/><stop offset="0.6541" stop-color="#000081"/><stop offset="0.6604" stop-color="#000081"/><stop offset="0.6667" stop-color="#000080"/><stop offset="0.6730" stop-color="#000080"/><stop offset="0.6792" stop-color="#000080"/><stop offset="0.6855" stop-color="#000080"/><stop offset="0.6918" stop-color="#000080"/><stop offset="0.6981" stop-color="#000080"/><stop offset="0.7044" stop-color="#000080"/><stop offset="0.7107" stop-color="#000080"/><stop offset="0.7170" stop-color="#000080"/><stop offset="0.7233" stop-color="#000080"/><stop offset="0.7296" stop-color="#000080"/><stop offset="0.7358" stop-color="#000080"/><stop offset="0.7421" stop-color="#000081"/><stop offset="0.7484" stop-color="#000081"/><stop offset="0.7547" stop-color="#000081"/><stop offset="0.7610" stop-color="#000082"/><stop offset="0.7673" stop-color="#000082"/><stop offset="0.7736" stop-color="#000082"/><stop offset="0.7799" stop-color="#000082"/><stop offset="0.7862" stop-color="#000083"/><stop offset="0.7925" stop-color="#000083"/><stop offset="0.7987" stop-color="#000083"/><stop offset="0.8050" stop-color="#000083"/><stop offset="0.8113" stop-color="#000083"/><stop offset="0.8176" stop-color="#000084"/><stop offset="0.8239" stop-color="#000084"/><stop offset="0.8302" stop-color="#000084"/><stop offset="0.8365" stop-color="#000084"/><stop offset="0.8428" stop-color="#000084"/><stop offset="0.8491" stop-color="#000084"/><stop offset="0.8553" stop-color="#000084"/><stop offset="0.8616" stop-color="#000084"/><stop offset="0.8679" stop-color="#000083"/><stop offset="0.8742" stop-color="#000083"/><stop offset="0.8805" stop-color="#000083"/><stop offset="0.8868" stop-color="#000083"/><stop offset="0.8931" stop-color="#000083"/><stop offset="0.8994" stop-color="#000082"/><stop offset="0.9057" stop-color="#000082"/><stop offset="0.9119" stop-color="#000082"/><stop offset="0.9182" stop-color="#000082"/><stop offset="0.9245" stop-color="#000081"/><stop offset="0.9308" stop-color="#000081"/><stop offset="0.9371" stop-color="#000081"/><stop offset="0.9434" stop-color="#000081"/><stop offset="0.9497" stop-color="#000081"/><stop offset="0.9560" stop-color="#000080"/><stop offset="0.9623" stop-color="#000080"/><stop offset="0.9686" stop-color="#000080"/><stop offset="0.9748" stop-color="#000080"/><stop offset="0.9811" stop-color="#000080"/><stop offset="0.9874" stop-color="#000080"/><stop offset="0.9937" stop-color="#000080"/><stop offset="1.0000" stop-color="#000080"/></radialGradient></defs>
<rect x="281.85" y="325" width="126.5" height="126.4" fill="url(#rg2)"/>
<line x1="281.85" y1="388.4" x2="408.35" y2="388.4" stroke="#ffff00" stroke-width="1.6" stroke-dasharray="6.1,6.15"/>
<text x="345.1" y="342.3" font-size="15" text-anchor="middle" font-weight="normal" font-style="normal" fill="#fff" stroke="#fff" stroke-width="0.28" ><tspan font-family="Liberation Serif" font-style="italic">λ</tspan> = 532 nm</text>
<defs><linearGradient id="cb2" x1="0" y1="0" x2="0" y2="1"><stop offset="0.0000" stop-color="#800000"/><stop offset="0.0156" stop-color="#8f0000"/><stop offset="0.0312" stop-color="#9f0000"/><stop offset="0.0469" stop-color="#af0000"/><stop offset="0.0625" stop-color="#bf0000"/><stop offset="0.0781" stop-color="#cf0000"/><stop offset="0.0938" stop-color="#df0000"/><stop offset="0.1094" stop-color="#ef0000"/><stop offset="0.1250" stop-color="#ff0000"/><stop offset="0.1406" stop-color="#ff1000"/><stop offset="0.1562" stop-color="#ff2000"/><stop offset="0.1719" stop-color="#ff3000"/><stop offset="0.1875" stop-color="#ff4000"/><stop offset="0.2031" stop-color="#ff5000"/><stop offset="0.2188" stop-color="#ff6000"/><stop offset="0.2344" stop-color="#ff7000"/><stop offset="0.2500" stop-color="#ff8000"/><stop offset="0.2656" stop-color="#ff8f00"/><stop offset="0.2812" stop-color="#ff9f00"/><stop offset="0.2969" stop-color="#ffaf00"/><stop offset="0.3125" stop-color="#ffbf00"/><stop offset="0.3281" stop-color="#ffcf00"/><stop offset="0.3438" stop-color="#ffdf00"/><stop offset="0.3594" stop-color="#ffef00"/><stop offset="0.3750" stop-color="#ffff00"/><stop offset="0.3906" stop-color="#efff10"/><stop offset="0.4062" stop-color="#dfff20"/><stop offset="0.4219" stop-color="#cfff30"/><stop offset="0.4375" stop-color="#bfff40"/><stop offset="0.4531" stop-color="#afff50"/><stop offset="0.4688" stop-color="#9fff60"/><stop offset="0.4844" stop-color="#8fff70"/><stop offset="0.5000" stop-color="#80ff80"/><stop offset="0.5156" stop-color="#70ff8f"/><stop offset="0.5312" stop-color="#60ff9f"/><stop offset="0.5469" stop-color="#50ffaf"/><stop offset="0.5625" stop-color="#40ffbf"/><stop offset="0.5781" stop-color="#30ffcf"/><stop offset="0.5938" stop-color="#20ffdf"/><stop offset="0.6094" stop-color="#10ffef"/><stop offset="0.6250" stop-color="#00ffff"/><stop offset="0.6406" stop-color="#00efff"/><stop offset="0.6562" stop-color="#00dfff"/><stop offset="0.6719" stop-color="#00cfff"/><stop offset="0.6875" stop-color="#00bfff"/><stop offset="0.7031" stop-color="#00afff"/><stop offset="0.7188" stop-color="#009fff"/><stop offset="0.7344" stop-color="#008fff"/><stop offset="0.7500" stop-color="#0080ff"/><stop offset="0.7656" stop-color="#0070ff"/><stop offset="0.7812" stop-color="#0060ff"/><stop offset="0.7969" stop-color="#0050ff"/><stop offset="0.8125" stop-color="#0040ff"/><stop offset="0.8281" stop-color="#0030ff"/><stop offset="0.8438" stop-color="#0020ff"/><stop offset="0.8594" stop-color="#0010ff"/><stop offset="0.8750" stop-color="#0000ff"/><stop offset="0.8906" stop-color="#0000ef"/><stop offset="0.9062" stop-color="#0000df"/><stop offset="0.9219" stop-color="#0000cf"/><stop offset="0.9375" stop-color="#0000bf"/><stop offset="0.9531" stop-color="#0000af"/><stop offset="0.9688" stop-color="#00009f"/><stop offset="0.9844" stop-color="#00008f"/><stop offset="1.0000" stop-color="#000080"/></linearGradient></defs>
<rect x="415.6" y="325.2" width="6.6" height="125.6" fill="url(#cb2)"/>
<text x="426.5" y="330.6" font-size="15" text-anchor="start" font-weight="normal" font-style="normal" fill="#000" stroke="#000" stroke-width="0.28" >1</text>
<text x="426.5" y="393.8" font-size="15" text-anchor="start" font-weight="normal" font-style="normal" fill="#000" stroke="#000" stroke-width="0.28" >0.5</text>
<text x="426.5" y="457" font-size="15" text-anchor="start" font-weight="normal" font-style="normal" fill="#000" stroke="#000" stroke-width="0.28" >0</text>
<text x="281.85" y="469.7" font-size="15" text-anchor="middle" font-weight="normal" font-style="normal" fill="#000" stroke="#000" stroke-width="0.28" >-2</text>
<text x="278.05" y="456.9" font-size="15" text-anchor="end" font-weight="normal" font-style="normal" fill="#000" stroke="#000" stroke-width="0.28" >-2</text>
<text x="313.48" y="469.7" font-size="15" text-anchor="middle" font-weight="normal" font-style="normal" fill="#000" stroke="#000" stroke-width="0.28" >-1</text>
<text x="278.05" y="425.3" font-size="15" text-anchor="end" font-weight="normal" font-style="normal" fill="#000" stroke="#000" stroke-width="0.28" >-1</text>
<text x="345.1" y="469.7" font-size="15" text-anchor="middle" font-weight="normal" font-style="normal" fill="#000" stroke="#000" stroke-width="0.28" >0</text>
<text x="278.05" y="393.7" font-size="15" text-anchor="end" font-weight="normal" font-style="normal" fill="#000" stroke="#000" stroke-width="0.28" >0</text>
<text x="376.73" y="469.7" font-size="15" text-anchor="middle" font-weight="normal" font-style="normal" fill="#000" stroke="#000" stroke-width="0.28" >1</text>
<text x="278.05" y="362.1" font-size="15" text-anchor="end" font-weight="normal" font-style="normal" fill="#000" stroke="#000" stroke-width="0.28" >1</text>
<text x="408.35" y="469.7" font-size="15" text-anchor="middle" font-weight="normal" font-style="normal" fill="#000" stroke="#000" stroke-width="0.28" >2</text>
<text x="278.05" y="330.5" font-size="15" text-anchor="end" font-weight="normal" font-style="normal" fill="#000" stroke="#000" stroke-width="0.28" >2</text>
<text x="345.1" y="488.5" font-size="16.3" text-anchor="middle" font-weight="normal" font-style="normal" fill="#000" stroke="#000" stroke-width="0.28" ><tspan font-style="italic">x</tspan> (μm)</text>
<text x="0" y="0" font-size="16.3" text-anchor="middle" font-weight="normal" font-style="normal" fill="#000" stroke="#000" stroke-width="0.28" transform="translate(262.05,387.6) rotate(-90)"><tspan font-style="italic">y</tspan> (μm)</text>
<path d="M282,510.8 L282,636.1 L407.8,636.1" fill="none" stroke="#000" stroke-width="2" stroke-linecap="square"/>
<line x1="282" y1="636.1" x2="282" y2="633.1" stroke="#000" stroke-width="1.6" />
<text x="282" y="655.3" font-size="15" text-anchor="middle" font-weight="normal" font-style="normal" fill="#000" stroke="#000" stroke-width="0.28" >-2</text>
<line x1="313.45" y1="636.1" x2="313.45" y2="633.1" stroke="#000" stroke-width="1.6" />
<text x="313.45" y="655.3" font-size="15" text-anchor="middle" font-weight="normal" font-style="normal" fill="#000" stroke="#000" stroke-width="0.28" >-1</text>
<line x1="344.9" y1="636.1" x2="344.9" y2="633.1" stroke="#000" stroke-width="1.6" />
<text x="344.9" y="655.3" font-size="15" text-anchor="middle" font-weight="normal" font-style="normal" fill="#000" stroke="#000" stroke-width="0.28" >0</text>
<line x1="376.35" y1="636.1" x2="376.35" y2="633.1" stroke="#000" stroke-width="1.6" />
<text x="376.35" y="655.3" font-size="15" text-anchor="middle" font-weight="normal" font-style="normal" fill="#000" stroke="#000" stroke-width="0.28" >1</text>
<line x1="407.8" y1="636.1" x2="407.8" y2="633.1" stroke="#000" stroke-width="1.6" />
<text x="407.8" y="655.3" font-size="15" text-anchor="middle" font-weight="normal" font-style="normal" fill="#000" stroke="#000" stroke-width="0.28" >2</text>
<line x1="282" y1="636.1" x2="285" y2="636.1" stroke="#000" stroke-width="1.6" />
<text x="276.8" y="641.7" font-size="15" text-anchor="end" font-weight="normal" font-style="normal" fill="#000" stroke="#000" stroke-width="0.28" >0</text>
<line x1="282" y1="573.45" x2="285" y2="573.45" stroke="#000" stroke-width="1.6" />
<text x="276.8" y="579.05" font-size="15" text-anchor="end" font-weight="normal" font-style="normal" fill="#000" stroke="#000" stroke-width="0.28" >0.5</text>
<line x1="282" y1="510.8" x2="285" y2="510.8" stroke="#000" stroke-width="1.6" />
<text x="276.8" y="516.4" font-size="15" text-anchor="end" font-weight="normal" font-style="normal" fill="#000" stroke="#000" stroke-width="0.28" >1</text>
<polyline points="282,635.13 282.63,635.03 283.26,634.92 283.89,634.8 284.52,634.68 285.14,634.55 285.77,634.41 286.4,634.27 287.03,634.13 287.66,633.99 288.29,633.84 288.92,633.7 289.55,633.57 290.18,633.44 290.81,633.31 291.44,633.2 292.06,633.09 292.69,633 293.32,632.92 293.95,632.86 294.58,632.81 295.21,632.78 295.84,632.77 296.47,632.78 297.1,632.8 297.73,632.84 298.35,632.9 298.98,632.98 299.61,633.07 300.24,633.18 300.87,633.29 301.5,633.42 302.13,633.55 302.76,633.68 303.39,633.82 304.01,633.94 304.64,634.06 305.27,634.16 305.9,634.24 306.53,634.29 307.16,634.3 307.79,634.28 308.42,634.21 309.05,634.09 309.68,633.9 310.31,633.65 310.93,633.32 311.56,632.9 312.19,632.4 312.82,631.8 313.45,631.1 314.08,630.29 314.71,629.36 315.34,628.31 315.97,627.13 316.6,625.82 317.22,624.38 317.85,622.8 318.48,621.07 319.11,619.21 319.74,617.2 320.37,615.04 321,612.75 321.63,610.31 322.26,607.74 322.88,605.03 323.51,602.2 324.14,599.24 324.77,596.16 325.4,592.98 326.03,589.7 326.66,586.33 327.29,582.88 327.92,579.36 328.55,575.79 329.18,572.17 329.8,568.53 330.43,564.88 331.06,561.22 331.69,557.58 332.32,553.98 332.95,550.42 333.58,546.92 334.21,543.5 334.84,540.18 335.47,536.97 336.09,533.88 336.72,530.93 337.35,528.14 337.98,525.52 338.61,523.07 339.24,520.82 339.87,518.78 340.5,516.95 341.13,515.34 341.75,513.97 342.38,512.84 343.01,511.95 343.64,511.31 344.27,510.93 344.9,510.8 345.53,510.93 346.16,511.31 346.79,511.95 347.42,512.84 348.05,513.97 348.67,515.34 349.3,516.95 349.93,518.78 350.56,520.82 351.19,523.07 351.82,525.52 352.45,528.14 353.08,530.93 353.71,533.88 354.34,536.97 354.96,540.18 355.59,543.5 356.22,546.92 356.85,550.42 357.48,553.98 358.11,557.58 358.74,561.22 359.37,564.88 360,568.53 360.62,572.17 361.25,575.79 361.88,579.36 362.51,582.88 363.14,586.33 363.77,589.7 364.4,592.98 365.03,596.16 365.66,599.24 366.29,602.2 366.92,605.03 367.54,607.74 368.17,610.31 368.8,612.75 369.43,615.04 370.06,617.2 370.69,619.21 371.32,621.07 371.95,622.8 372.58,624.38 373.21,625.82 373.83,627.13 374.46,628.31 375.09,629.36 375.72,630.29 376.35,631.1 376.98,631.8 377.61,632.4 378.24,632.9 378.87,633.32 379.5,633.65 380.12,633.9 380.75,634.09 381.38,634.21 382.01,634.28 382.64,634.3 383.27,634.29 383.9,634.24 384.53,634.16 385.16,634.06 385.79,633.94 386.41,633.82 387.04,633.68 387.67,633.55 388.3,633.42 388.93,633.29 389.56,633.18 390.19,633.07 390.82,632.98 391.45,632.9 392.08,632.84 392.7,632.8 393.33,632.78 393.96,632.77 394.59,632.78 395.22,632.81 395.85,632.86 396.48,632.92 397.11,633 397.74,633.09 398.37,633.2 398.99,633.31 399.62,633.44 400.25,633.57 400.88,633.7 401.51,633.84 402.14,633.99 402.77,634.13 403.4,634.27 404.03,634.41 404.66,634.55 405.28,634.68 405.91,634.8 406.54,634.92 407.17,635.03 407.8,635.13" fill="none" stroke="#00ff00" stroke-width="2.8" stroke-linejoin="round" />
<text x="344.9" y="673.5" font-size="16.3" text-anchor="middle" font-weight="normal" font-style="normal" fill="#000" stroke="#000" stroke-width="0.28" ><tspan font-style="italic">x</tspan> (μm)</text>
<line x1="295.05" y1="573.45" x2="320.24" y2="573.45" stroke="#000" stroke-width="1.9" />
<polygon points="325.24,573.45 319.24,576.45 319.24,570.45" fill="#000"/>
<line x1="394.75" y1="573.45" x2="369.56" y2="573.45" stroke="#000" stroke-width="1.9" />
<polygon points="364.56,573.45 370.56,570.45 370.56,576.45" fill="#000"/>
<text x="395.4" y="530.3" font-size="15.2" text-anchor="middle" font-weight="normal" font-style="normal" fill="#000" stroke="#000" stroke-width="0.28" >FWHM =</text>
<text x="395.4" y="548.3" font-size="15.2" text-anchor="middle" font-weight="normal" font-style="normal" fill="#000" stroke="#000" stroke-width="0.28" >1.00 μm</text>
<defs><radialGradient id="rg3" gradientUnits="userSpaceOnUse" cx="553.85" cy="388.4" r="93.41"><stop offset="0.0000" stop-color="#800000"/><stop offset="0.0063" stop-color="#800000"/><stop offset="0.0126" stop-color="#820000"/><stop offset="0.0189" stop-color="#860000"/><stop offset="0.0252" stop-color="#8b0000"/><stop offset="0.0314" stop-color="#910000"/><stop offset="0.0377" stop-color="#990000"/><stop offset="0.0440" stop-color="#a20000"/><stop offset="0.0503" stop-color="#ad0000"/><stop offset="0.0566" stop-color="#b80000"/><stop offset="0.0629" stop-color="#c50000"/><stop offset="0.0692" stop-color="#d40000"/><stop offset="0.0755" stop-color="#e30000"/><stop offset="0.0818" stop-color="#f30000"/><stop offset="0.0881" stop-color="#ff0600"/><stop offset="0.0943" stop-color="#ff1800"/><stop offset="0.1006" stop-color="#ff2b00"/><stop offset="0.1069" stop-color="#ff4000"/><stop offset="0.1132" stop-color="#ff5500"/><stop offset="0.1195" stop-color="#ff6a00"/><stop offset="0.1258" stop-color="#ff8100"/><stop offset="0.1321" stop-color="#ff9800"/><stop offset="0.1384" stop-color="#ffaf00"/><stop offset="0.1447" stop-color="#ffc700"/><stop offset="0.1509" stop-color="#ffdf00"/><stop offset="0.1572" stop-color="#fff800"/><stop offset="0.1635" stop-color="#eeff11"/><stop offset="0.1698" stop-color="#d5ff2a"/><stop offset="0.1761" stop-color="#bcff43"/><stop offset="0.1824" stop-color="#a3ff5c"/><stop offset="0.1887" stop-color="#8aff75"/><stop offset="0.1950" stop-color="#71ff8e"/><stop offset="0.2013" stop-color="#59ffa6"/><stop offset="0.2075" stop-color="#41ffbe"/><stop offset="0.2138" stop-color="#29ffd6"/><stop offset="0.2201" stop-color="#11ffee"/><stop offset="0.2264" stop-color="#00f9ff"/><stop offset="0.2327" stop-color="#00e2ff"/><stop offset="0.2390" stop-color="#00ccff"/><stop offset="0.2453" stop-color="#00b7ff"/><stop offset="0.2516" stop-color="#00a2ff"/><stop offset="0.2579" stop-color="#008dff"/><stop offset="0.2642" stop-color="#007aff"/><stop offset="0.2704" stop-color="#0067ff"/><stop offset="0.2767" stop-color="#0055ff"/><stop offset="0.2830" stop-color="#0043ff"/><stop offset="0.2893" stop-color="#0033ff"/><stop offset="0.2956" stop-color="#0023ff"/><stop offset="0.3019" stop-color="#0014ff"/><stop offset="0.3082" stop-color="#0006ff"/><stop offset="0.3145" stop-color="#0000f7"/><stop offset="0.3208" stop-color="#0000eb"/><stop offset="0.3270" stop-color="#0000df"/><stop offset="0.3333" stop-color="#0000d4"/><stop offset="0.3396" stop-color="#0000ca"/><stop offset="0.3459" stop-color="#0000c0"/><stop offset="0.3522" stop-color="#0000b7"/><stop offset="0.3585" stop-color="#0000b0"/><stop offset="0.3648" stop-color="#0000a8"/><stop offset="0.3711" stop-color="#0000a2"/><stop offset="0.3774" stop-color="#00009c"/><stop offset="0.3836" stop-color="#000097"/><stop offset="0.3899" stop-color="#000092"/><stop offset="0.3962" stop-color="#00008e"/><stop offset="0.4025" stop-color="#00008b"/><stop offset="0.4088" stop-color="#000088"/><stop offset="0.4151" stop-color="#000086"/><stop offset="0.4214" stop-color="#000084"/><stop offset="0.4277" stop-color="#000082"/><stop offset="0.4340" stop-color="#000081"/><stop offset="0.4403" stop-color="#000080"/><stop offset="0.4465" stop-color="#000080"/><stop offset="0.4528" stop-color="#000080"/><stop offset="0.4591" stop-color="#000080"/><stop offset="0.4654" stop-color="#000080"/><stop offset="0.4717" stop-color="#000080"/><stop offset="0.4780" stop-color="#000081"/><stop offset="0.4843" stop-color="#000082"/><stop offset="0.4906" stop-color="#000083"/><stop offset="0.4969" stop-color="#000084"/><stop offset="0.5031" stop-color="#000085"/><stop offset="0.5094" stop-color="#000086"/><stop offset="0.5157" stop-color="#000087"/><stop offset="0.5220" stop-color="#000088"/><stop offset="0.5283" stop-color="#000089"/><stop offset="0.5346" stop-color="#00008b"/><stop offset="0.5409" stop-color="#00008c"/><stop offset="0.5472" stop-color="#00008d"/><stop offset="0.5535" stop-color="#00008d"/><stop offset="0.5597" stop-color="#00008e"/><stop offset="0.5660" stop-color="#00008f"/><stop offset="0.5723" stop-color="#000090"/><stop offset="0.5786" stop-color="#000090"/><stop offset="0.5849" stop-color="#000091"/><stop offset="0.5912" stop-color="#000091"/><stop offset="0.5975" stop-color="#000091"/><stop offset="0.6038" stop-color="#000091"/><stop offset="0.6101" stop-color="#000091"/><stop offset="0.6164" stop-color="#000091"/><stop offset="0.6226" stop-color="#000091"/><stop offset="0.6289" stop-color="#000091"/><stop offset="0.6352" stop-color="#000090"/><stop offset="0.6415" stop-color="#000090"/><stop offset="0.6478" stop-color="#000090"/><stop offset="0.6541" stop-color="#00008f"/><stop offset="0.6604" stop-color="#00008e"/><stop offset="0.6667" stop-color="#00008e"/><stop offset="0.6730" stop-color="#00008d"/><stop offset="0.6792" stop-color="#00008c"/><stop offset="0.6855" stop-color="#00008b"/><stop offset="0.6918" stop-color="#00008b"/><stop offset="0.6981" stop-color="#00008a"/><stop offset="0.7044" stop-color="#000089"/><stop offset="0.7107" stop-color="#000088"/><stop offset="0.7170" stop-color="#000087"/><stop offset="0.7233" stop-color="#000087"/><stop offset="0.7296" stop-color="#000086"/><stop offset="0.7358" stop-color="#000085"/><stop offset="0.7421" stop-color="#000084"/><stop offset="0.7484" stop-color="#000084"/><stop offset="0.7547" stop-color="#000083"/><stop offset="0.7610" stop-color="#000082"/><stop offset="0.7673" stop-color="#000082"/><stop offset="0.7736" stop-color="#000081"/><stop offset="0.7799" stop-color="#000081"/><stop offset="0.7862" stop-color="#000081"/><stop offset="0.7925" stop-color="#000080"/><stop offset="0.7987" stop-color="#000080"/><stop offset="0.8050" stop-color="#000080"/><stop offset="0.8113" stop-color="#000080"/><stop offset="0.8176" stop-color="#000080"/><stop offset="0.8239" stop-color="#000080"/><stop offset="0.8302" stop-color="#000080"/><stop offset="0.8365" stop-color="#000080"/><stop offset="0.8428" stop-color="#000080"/><stop offset="0.8491" stop-color="#000080"/><stop offset="0.8553" stop-color="#000080"/><stop offset="0.8616" stop-color="#000080"/><stop offset="0.8679" stop-color="#000080"/><stop offset="0.8742" stop-color="#000080"/><stop offset="0.8805" stop-color="#000081"/><stop offset="0.8868" stop-color="#000081"/><stop offset="0.8931" stop-color="#000081"/><stop offset="0.8994" stop-color="#000081"/><stop offset="0.9057" stop-color="#000082"/><stop offset="0.9119" stop-color="#000082"/><stop offset="0.9182" stop-color="#000082"/><stop offset="0.9245" stop-color="#000082"/><stop offset="0.9308" stop-color="#000082"/><stop offset="0.9371" stop-color="#000083"/><stop offset="0.9434" stop-color="#000083"/><stop offset="0.9497" stop-color="#000083"/><stop offset="0.9560" stop-color="#000083"/><stop offset="0.9623" stop-color="#000083"/><stop offset="0.9686" stop-color="#000084"/><stop offset="0.9748" stop-color="#000084"/><stop offset="0.9811" stop-color="#000084"/><stop offset="0.9874" stop-color="#000084"/><stop offset="0.9937" stop-color="#000084"/><stop offset="1.0000" stop-color="#000084"/></radialGradient></defs>
<rect x="489.7" y="325" width="126.5" height="126.4" fill="url(#rg3)"/>
<line x1="489.7" y1="388.4" x2="616.2" y2="388.4" stroke="#ffff00" stroke-width="1.6" stroke-dasharray="6.1,6.15"/>
<text x="552.95" y="342.3" font-size="15" text-anchor="middle" font-weight="normal" font-style="normal" fill="#fff" stroke="#fff" stroke-width="0.28" ><tspan font-family="Liberation Serif" font-style="italic">λ</tspan> = 635 nm</text>
<defs><linearGradient id="cb3" x1="0" y1="0" x2="0" y2="1"><stop offset="0.0000" stop-color="#800000"/><stop offset="0.0156" stop-color="#8f0000"/><stop offset="0.0312" stop-color="#9f0000"/><stop offset="0.0469" stop-color="#af0000"/><stop offset="0.0625" stop-color="#bf0000"/><stop offset="0.0781" stop-color="#cf0000"/><stop offset="0.0938" stop-color="#df0000"/><stop offset="0.1094" stop-color="#ef0000"/><stop offset="0.1250" stop-color="#ff0000"/><stop offset="0.1406" stop-color="#ff1000"/><stop offset="0.1562" stop-color="#ff2000"/><stop offset="0.1719" stop-color="#ff3000"/><stop offset="0.1875" stop-color="#ff4000"/><stop offset="0.2031" stop-color="#ff5000"/><stop offset="0.2188" stop-color="#ff6000"/><stop offset="0.2344" stop-color="#ff7000"/><stop offset="0.2500" stop-color="#ff8000"/><stop offset="0.2656" stop-color="#ff8f00"/><stop offset="0.2812" stop-color="#ff9f00"/><stop offset="0.2969" stop-color="#ffaf00"/><stop offset="0.3125" stop-color="#ffbf00"/><stop offset="0.3281" stop-color="#ffcf00"/><stop offset="0.3438" stop-color="#ffdf00"/><stop offset="0.3594" stop-color="#ffef00"/><stop offset="0.3750" stop-color="#ffff00"/><stop offset="0.3906" stop-color="#efff10"/><stop offset="0.4062" stop-color="#dfff20"/><stop offset="0.4219" stop-color="#cfff30"/><stop offset="0.4375" stop-color="#bfff40"/><stop offset="0.4531" stop-color="#afff50"/><stop offset="0.4688" stop-color="#9fff60"/><stop offset="0.4844" stop-color="#8fff70"/><stop offset="0.5000" stop-color="#80ff80"/><stop offset="0.5156" stop-color="#70ff8f"/><stop offset="0.5312" stop-color="#60ff9f"/><stop offset="0.5469" stop-color="#50ffaf"/><stop offset="0.5625" stop-color="#40ffbf"/><stop offset="0.5781" stop-color="#30ffcf"/><stop offset="0.5938" stop-color="#20ffdf"/><stop offset="0.6094" stop-color="#10ffef"/><stop offset="0.6250" stop-color="#00ffff"/><stop offset="0.6406" stop-color="#00efff"/><stop offset="0.6562" stop-color="#00dfff"/><stop offset="0.6719" stop-color="#00cfff"/><stop offset="0.6875" stop-color="#00bfff"/><stop offset="0.7031" stop-color="#00afff"/><stop offset="0.7188" stop-color="#009fff"/><stop offset="0.7344" stop-color="#008fff"/><stop offset="0.7500" stop-color="#0080ff"/><stop offset="0.7656" stop-color="#0070ff"/><stop offset="0.7812" stop-color="#0060ff"/><stop offset="0.7969" stop-color="#0050ff"/><stop offset="0.8125" stop-color="#0040ff"/><stop offset="0.8281" stop-color="#0030ff"/><stop offset="0.8438" stop-color="#0020ff"/><stop offset="0.8594" stop-color="#0010ff"/><stop offset="0.8750" stop-color="#0000ff"/><stop offset="0.8906" stop-color="#0000ef"/><stop offset="0.9062" stop-color="#0000df"/><stop offset="0.9219" stop-color="#0000cf"/><stop offset="0.9375" stop-color="#0000bf"/><stop offset="0.9531" stop-color="#0000af"/><stop offset="0.9688" stop-color="#00009f"/><stop offset="0.9844" stop-color="#00008f"/><stop offset="1.0000" stop-color="#000080"/></linearGradient></defs>
<rect x="623.7" y="325.2" width="6.6" height="125.6" fill="url(#cb3)"/>
<text x="634.6" y="330.6" font-size="15" text-anchor="start" font-weight="normal" font-style="normal" fill="#000" stroke="#000" stroke-width="0.28" >1</text>
<text x="634.6" y="393.8" font-size="15" text-anchor="start" font-weight="normal" font-style="normal" fill="#000" stroke="#000" stroke-width="0.28" >0.5</text>
<text x="634.6" y="457" font-size="15" text-anchor="start" font-weight="normal" font-style="normal" fill="#000" stroke="#000" stroke-width="0.28" >0</text>
<text x="489.7" y="469.7" font-size="15" text-anchor="middle" font-weight="normal" font-style="normal" fill="#000" stroke="#000" stroke-width="0.28" >-2</text>
<text x="485.9" y="456.9" font-size="15" text-anchor="end" font-weight="normal" font-style="normal" fill="#000" stroke="#000" stroke-width="0.28" >-2</text>
<text x="521.33" y="469.7" font-size="15" text-anchor="middle" font-weight="normal" font-style="normal" fill="#000" stroke="#000" stroke-width="0.28" >-1</text>
<text x="485.9" y="425.3" font-size="15" text-anchor="end" font-weight="normal" font-style="normal" fill="#000" stroke="#000" stroke-width="0.28" >-1</text>
<text x="552.95" y="469.7" font-size="15" text-anchor="middle" font-weight="normal" font-style="normal" fill="#000" stroke="#000" stroke-width="0.28" >0</text>
<text x="485.9" y="393.7" font-size="15" text-anchor="end" font-weight="normal" font-style="normal" fill="#000" stroke="#000" stroke-width="0.28" >0</text>
<text x="584.58" y="469.7" font-size="15" text-anchor="middle" font-weight="normal" font-style="normal" fill="#000" stroke="#000" stroke-width="0.28" >1</text>
<text x="485.9" y="362.1" font-size="15" text-anchor="end" font-weight="normal" font-style="normal" fill="#000" stroke="#000" stroke-width="0.28" >1</text>
<text x="616.2" y="469.7" font-size="15" text-anchor="middle" font-weight="normal" font-style="normal" fill="#000" stroke="#000" stroke-width="0.28" >2</text>
<text x="485.9" y="330.5" font-size="15" text-anchor="end" font-weight="normal" font-style="normal" fill="#000" stroke="#000" stroke-width="0.28" >2</text>
<text x="552.95" y="488.5" font-size="16.3" text-anchor="middle" font-weight="normal" font-style="normal" fill="#000" stroke="#000" stroke-width="0.28" ><tspan font-style="italic">x</tspan> (μm)</text>
<text x="0" y="0" font-size="16.3" text-anchor="middle" font-weight="normal" font-style="normal" fill="#000" stroke="#000" stroke-width="0.28" transform="translate(469.9,387.6) rotate(-90)"><tspan font-style="italic">y</tspan> (μm)</text>
<path d="M490.1,510.8 L490.1,636.1 L615.9,636.1" fill="none" stroke="#000" stroke-width="2" stroke-linecap="square"/>
<line x1="490.1" y1="636.1" x2="490.1" y2="633.1" stroke="#000" stroke-width="1.6" />
<text x="490.1" y="655.3" font-size="15" text-anchor="middle" font-weight="normal" font-style="normal" fill="#000" stroke="#000" stroke-width="0.28" >-2</text>
<line x1="521.55" y1="636.1" x2="521.55" y2="633.1" stroke="#000" stroke-width="1.6" />
<text x="521.55" y="655.3" font-size="15" text-anchor="middle" font-weight="normal" font-style="normal" fill="#000" stroke="#000" stroke-width="0.28" >-1</text>
<line x1="553" y1="636.1" x2="553" y2="633.1" stroke="#000" stroke-width="1.6" />
<text x="553" y="655.3" font-size="15" text-anchor="middle" font-weight="normal" font-style="normal" fill="#000" stroke="#000" stroke-width="0.28" >0</text>
<line x1="584.45" y1="636.1" x2="584.45" y2="633.1" stroke="#000" stroke-width="1.6" />
<text x="584.45" y="655.3" font-size="15" text-anchor="middle" font-weight="normal" font-style="normal" fill="#000" stroke="#000" stroke-width="0.28" >1</text>
<line x1="615.9" y1="636.1" x2="615.9" y2="633.1" stroke="#000" stroke-width="1.6" />
<text x="615.9" y="655.3" font-size="15" text-anchor="middle" font-weight="normal" font-style="normal" fill="#000" stroke="#000" stroke-width="0.28" >2</text>
<line x1="490.1" y1="636.1" x2="493.1" y2="636.1" stroke="#000" stroke-width="1.6" />
<text x="484.9" y="641.7" font-size="15" text-anchor="end" font-weight="normal" font-style="normal" fill="#000" stroke="#000" stroke-width="0.28" >0</text>
<line x1="490.1" y1="573.45" x2="493.1" y2="573.45" stroke="#000" stroke-width="1.6" />
<text x="484.9" y="579.05" font-size="15" text-anchor="end" font-weight="normal" font-style="normal" fill="#000" stroke="#000" stroke-width="0.28" >0.5</text>
<line x1="490.1" y1="510.8" x2="493.1" y2="510.8" stroke="#000" stroke-width="1.6" />
<text x="484.9" y="516.4" font-size="15" text-anchor="end" font-weight="normal" font-style="normal" fill="#000" stroke="#000" stroke-width="0.28" >1</text>
<polyline points="490.1,633.1 490.73,633.02 491.36,632.95 491.99,632.89 492.62,632.84 493.25,632.81 493.87,632.78 494.5,632.77 495.13,632.77 495.76,632.79 496.39,632.81 497.02,632.85 497.65,632.91 498.28,632.97 498.91,633.04 499.54,633.13 500.16,633.22 500.79,633.32 501.42,633.43 502.05,633.54 502.68,633.65 503.31,633.77 503.94,633.88 504.57,633.98 505.2,634.07 505.83,634.16 506.45,634.22 507.08,634.27 507.71,634.3 508.34,634.3 508.97,634.27 509.6,634.21 510.23,634.11 510.86,633.96 511.49,633.77 512.12,633.53 512.74,633.23 513.37,632.88 514,632.46 514.63,631.97 515.26,631.41 515.89,630.77 516.52,630.06 517.15,629.26 517.78,628.37 518.4,627.4 519.03,626.33 519.66,625.17 520.29,623.92 520.92,622.56 521.55,621.1 522.18,619.55 522.81,617.89 523.44,616.13 524.07,614.27 524.7,612.31 525.32,610.25 525.95,608.09 526.58,605.84 527.21,603.5 527.84,601.07 528.47,598.55 529.1,595.95 529.73,593.28 530.36,590.53 530.99,587.72 531.61,584.86 532.24,581.94 532.87,578.97 533.5,575.97 534.13,572.93 534.76,569.88 535.39,566.81 536.02,563.74 536.65,560.67 537.27,557.61 537.9,554.58 538.53,551.58 539.16,548.62 539.79,545.7 540.42,542.85 541.05,540.07 541.68,537.37 542.31,534.75 542.94,532.23 543.57,529.81 544.19,527.51 544.82,525.32 545.45,523.27 546.08,521.35 546.71,519.58 547.34,517.95 547.97,516.48 548.6,515.17 549.23,514.02 549.86,513.05 550.48,512.24 551.11,511.61 551.74,511.16 552.37,510.89 553,510.8 553.63,510.89 554.26,511.16 554.89,511.61 555.52,512.24 556.14,513.05 556.77,514.02 557.4,515.17 558.03,516.48 558.66,517.95 559.29,519.58 559.92,521.35 560.55,523.27 561.18,525.32 561.81,527.51 562.43,529.81 563.06,532.23 563.69,534.75 564.32,537.37 564.95,540.07 565.58,542.85 566.21,545.7 566.84,548.62 567.47,551.58 568.1,554.58 568.73,557.61 569.35,560.67 569.98,563.74 570.61,566.81 571.24,569.88 571.87,572.93 572.5,575.97 573.13,578.97 573.76,581.94 574.39,584.86 575.01,587.72 575.64,590.53 576.27,593.28 576.9,595.95 577.53,598.55 578.16,601.07 578.79,603.5 579.42,605.84 580.05,608.09 580.68,610.25 581.3,612.31 581.93,614.27 582.56,616.13 583.19,617.89 583.82,619.55 584.45,621.1 585.08,622.56 585.71,623.92 586.34,625.17 586.97,626.33 587.6,627.4 588.22,628.37 588.85,629.26 589.48,630.06 590.11,630.77 590.74,631.41 591.37,631.97 592,632.46 592.63,632.88 593.26,633.23 593.88,633.53 594.51,633.77 595.14,633.96 595.77,634.11 596.4,634.21 597.03,634.27 597.66,634.3 598.29,634.3 598.92,634.27 599.55,634.22 600.17,634.16 600.8,634.07 601.43,633.98 602.06,633.88 602.69,633.77 603.32,633.65 603.95,633.54 604.58,633.43 605.21,633.32 605.84,633.22 606.47,633.13 607.09,633.04 607.72,632.97 608.35,632.91 608.98,632.85 609.61,632.81 610.24,632.79 610.87,632.77 611.5,632.77 612.13,632.78 612.75,632.81 613.38,632.84 614.01,632.89 614.64,632.95 615.27,633.02 615.9,633.1" fill="none" stroke="#ff0000" stroke-width="2.8" stroke-linejoin="round" />
<text x="553" y="673.5" font-size="16.3" text-anchor="middle" font-weight="normal" font-style="normal" fill="#000" stroke="#000" stroke-width="0.28" ><tspan font-style="italic">x</tspan> (μm)</text>
<line x1="500.48" y1="573.45" x2="525.67" y2="573.45" stroke="#000" stroke-width="1.9" />
<polygon points="530.67,573.45 524.67,576.45 524.67,570.45" fill="#000"/>
<line x1="605.52" y1="573.45" x2="580.33" y2="573.45" stroke="#000" stroke-width="1.9" />
<polygon points="575.33,573.45 581.33,570.45 581.33,576.45" fill="#000"/>
<text x="605.3" y="530.3" font-size="15.2" text-anchor="middle" font-weight="normal" font-style="normal" fill="#000" stroke="#000" stroke-width="0.28" >FWHM =</text>
<text x="605.3" y="548.3" font-size="15.2" text-anchor="middle" font-weight="normal" font-style="normal" fill="#000" stroke="#000" stroke-width="0.28" >1.19 μm</text>
<text x="0" y="0" font-size="16.6" text-anchor="middle" font-weight="normal" font-style="normal" fill="#000" stroke="#000" stroke-width="0.28" transform="translate(676.2,394.9) rotate(-90)">Normalized intensity</text>
<text x="0" y="0" font-size="16.6" text-anchor="middle" font-weight="normal" font-style="normal" fill="#000" stroke="#000" stroke-width="0.28" transform="translate(676.2,579.8) rotate(-90)">Normalized intensity</text>
<text x="-0.8" y="710.8" font-size="30" text-anchor="start" font-weight="bold" font-style="normal" fill="#000" >d</text>
<polyline points="79,888.31 80.5,888.23 82,888.16 83.5,888.1 85,888.03 86.5,887.97 88,887.91 89.5,887.85 91,887.8 92.5,887.74 94,887.69 95.5,887.64 97,887.59 98.5,887.55 100,887.51 101.5,887.46 103,887.42 104.5,887.38 106,887.34 107.5,887.31 109,887.27 110.5,887.23 112,887.2 113.5,887.16 115,887.13 116.5,887.09 118,887.06 119.5,887.02 121,886.99 122.5,886.95 124,886.92 125.5,886.88 127,886.85 128.5,886.81 130,886.78 131.5,886.74 133,886.7 134.5,886.66 136,886.62 137.5,886.57 139,886.53 140.5,886.48 142,886.43 143.5,886.38 145,886.33 146.5,886.28 148,886.22 149.5,886.16 151,886.1 152.5,886.04 154,885.97 155.5,885.91 157,885.83 158.5,885.76 160,885.68 161.5,885.6 163,885.51 164.5,885.43 166,885.33 167.5,885.24 169,885.14 170.5,885.03 172,884.93 173.5,884.81 175,884.7 176.5,884.58 178,884.45 179.5,884.32 181,884.19 182.5,884.05 184,883.9 185.5,883.75 187,883.6 188.5,883.43 190,883.27 191.5,883.1 193,882.92 194.5,882.73 196,882.54 197.5,882.35 199,882.15 200.5,881.94 202,881.72 203.5,881.5 205,881.27 206.5,881.04 208,880.79 209.5,880.54 211,880.29 212.5,880.02 214,879.75 215.5,879.47 217,879.19 218.5,878.89 220,878.59 221.5,878.28 223,877.96 224.5,877.63 226,877.3 227.5,876.95 229,876.6 230.5,876.24 232,875.87 233.5,875.49 235,875.1 236.5,874.7 238,874.3 239.5,873.88 241,873.46 242.5,873.02 244,872.57 245.5,872.12 247,871.65 248.5,871.18 250,870.69 251.5,870.2 253,869.69 254.5,869.17 256,868.64 257.5,868.1 259,867.55 260.5,866.99 262,866.42 263.5,865.83 265,865.24 266.5,864.63 268,864.01 269.5,863.38 271,862.74 272.5,862.08 274,861.42 275.5,860.74 277,860.05 278.5,859.34 280,858.63 281.5,857.9 283,857.15 284.5,856.4 286,855.63 287.5,854.85 289,854.05 290.5,853.24 292,852.42 293.5,851.58 295,850.73 296.5,849.87 298,848.99 299.5,848.1 301,847.19 302.5,846.27 304,845.33 305.5,844.38 307,843.41 308.5,842.43 310,841.44 311.5,840.43 313,839.4 314.5,838.36 316,837.3 317.5,836.23 319,835.14" fill="none" stroke="#0000ff" stroke-width="3" stroke-linejoin="round" />
<polyline points="79,835.71 80.5,835.7 82,835.69 83.5,835.67 85,835.66 86.5,835.64 88,835.62 89.5,835.6 91,835.58 92.5,835.56 94,835.53 95.5,835.51 97,835.48 98.5,835.45 100,835.42 101.5,835.39 103,835.35 104.5,835.32 106,835.28 107.5,835.24 109,835.2 110.5,835.16 112,835.11 113.5,835.07 115,835.02 116.5,834.97 118,834.92 119.5,834.87 121,834.81 122.5,834.75 124,834.69 125.5,834.63 127,834.57 128.5,834.5 130,834.44 131.5,834.37 133,834.29 134.5,834.22 136,834.14 137.5,834.07 139,833.99 140.5,833.9 142,833.82 143.5,833.73 145,833.64 146.5,833.55 148,833.45 149.5,833.36 151,833.26 152.5,833.16 154,833.05 155.5,832.95 157,832.84 158.5,832.72 160,832.61 161.5,832.49 163,832.37 164.5,832.25 166,832.13 167.5,832 169,831.87 170.5,831.74 172,831.6 173.5,831.46 175,831.32 176.5,831.18 178,831.03 179.5,830.88 181,830.73 182.5,830.57 184,830.41 185.5,830.25 187,830.09 188.5,829.92 190,829.75 191.5,829.57 193,829.4 194.5,829.22 196,829.03 197.5,828.85 199,828.66 200.5,828.47 202,828.27 203.5,828.07 205,827.87 206.5,827.66 208,827.45 209.5,827.24 211,827.02 212.5,826.8 214,826.58 215.5,826.36 217,826.13 218.5,825.89 220,825.66 221.5,825.42 223,825.17 224.5,824.92 226,824.67 227.5,824.42 229,824.16 230.5,823.9 232,823.63 233.5,823.36 235,823.09 236.5,822.81 238,822.53 239.5,822.24 241,821.95 242.5,821.66 244,821.36 245.5,821.06 247,820.76 248.5,820.45 250,820.14 251.5,819.82 253,819.5 254.5,819.17 256,818.84 257.5,818.51 259,818.17 260.5,817.83 262,817.48 263.5,817.13 265,816.78 266.5,816.42 268,816.06 269.5,815.69 271,815.32 272.5,814.94 274,814.56 275.5,814.18 277,813.79 278.5,813.39 280,812.99 281.5,812.59 283,812.18 284.5,811.77 286,811.35 287.5,810.93 289,810.5 290.5,810.07 292,809.64 293.5,809.2 295,808.75 296.5,808.3 298,807.85 299.5,807.39 301,806.92 302.5,806.45 304,805.98 305.5,805.5 307,805.02 308.5,804.53 310,804.03 311.5,803.53 313,803.03 314.5,802.52 316,802.01 317.5,801.49 319,800.96" fill="none" stroke="#00ff00" stroke-width="3" stroke-linejoin="round" stroke-dasharray="12,11"/>
<polyline points="79,767.12 80.5,767.12 82,767.13 83.5,767.14 85,767.15 86.5,767.16 88,767.18 89.5,767.19 91,767.21 92.5,767.23 94,767.24 95.5,767.26 97,767.28 98.5,767.3 100,767.32 101.5,767.35 103,767.37 104.5,767.39 106,767.41 107.5,767.44 109,767.46 110.5,767.49 112,767.51 113.5,767.53 115,767.56 116.5,767.58 118,767.61 119.5,767.63 121,767.65 122.5,767.67 124,767.7 125.5,767.72 127,767.74 128.5,767.76 130,767.78 131.5,767.8 133,767.81 134.5,767.83 136,767.85 137.5,767.86 139,767.87 140.5,767.88 142,767.89 143.5,767.9 145,767.91 146.5,767.92 148,767.92 149.5,767.92 151,767.92 152.5,767.92 154,767.91 155.5,767.91 157,767.9 158.5,767.89 160,767.88 161.5,767.86 163,767.84 164.5,767.82 166,767.8 167.5,767.78 169,767.75 170.5,767.72 172,767.68 173.5,767.65 175,767.61 176.5,767.56 178,767.52 179.5,767.47 181,767.41 182.5,767.36 184,767.3 185.5,767.23 187,767.17 188.5,767.09 190,767.02 191.5,766.94 193,766.86 194.5,766.77 196,766.68 197.5,766.59 199,766.49 200.5,766.38 202,766.28 203.5,766.16 205,766.05 206.5,765.92 208,765.8 209.5,765.67 211,765.53 212.5,765.39 214,765.24 215.5,765.09 217,764.94 218.5,764.77 220,764.61 221.5,764.43 223,764.26 224.5,764.07 226,763.88 227.5,763.69 229,763.49 230.5,763.28 232,763.07 233.5,762.85 235,762.63 236.5,762.4 238,762.16 239.5,761.92 241,761.67 242.5,761.41 244,761.15 245.5,760.88 247,760.61 248.5,760.33 250,760.04 251.5,759.74 253,759.44 254.5,759.13 256,758.81 257.5,758.49 259,758.16 260.5,757.82 262,757.47 263.5,757.12 265,756.76 266.5,756.39 268,756.01 269.5,755.63 271,755.23 272.5,754.83 274,754.42 275.5,754.01 277,753.58 278.5,753.15 280,752.71 281.5,752.26 283,751.8 284.5,751.34 286,750.86 287.5,750.38 289,749.88 290.5,749.38 292,748.87 293.5,748.35 295,747.82 296.5,747.29 298,746.74 299.5,746.18 301,745.62 302.5,745.04 304,744.46 305.5,743.87 307,743.26 308.5,742.65 310,742.02 311.5,741.39 313,740.75 314.5,740.1 316,739.43 317.5,738.76 319,738.07" fill="none" stroke="#ff0000" stroke-width="2.8" stroke-linejoin="round" stroke-dasharray="2.8,3.1"/>
<path d="M79,730.3 L79,906 L319,906" fill="none" stroke="#000" stroke-width="2" stroke-linecap="square"/>
<line x1="79" y1="906" x2="79" y2="902.5" stroke="#000" stroke-width="2" />
<text x="79" y="927.3" font-size="17" text-anchor="middle" font-weight="normal" font-style="normal" fill="#000" stroke="#000" stroke-width="0.28" >0</text>
<line x1="139" y1="906" x2="139" y2="902.5" stroke="#000" stroke-width="2" />
<text x="139" y="927.3" font-size="17" text-anchor="middle" font-weight="normal" font-style="normal" fill="#000" stroke="#000" stroke-width="0.28" >4</text>
<line x1="199" y1="906" x2="199" y2="902.5" stroke="#000" stroke-width="2" />
<text x="199" y="927.3" font-size="17" text-anchor="middle" font-weight="normal" font-style="normal" fill="#000" stroke="#000" stroke-width="0.28" >8</text>
<line x1="259" y1="906" x2="259" y2="902.5" stroke="#000" stroke-width="2" />
<text x="259" y="927.3" font-size="17" text-anchor="middle" font-weight="normal" font-style="normal" fill="#000" stroke="#000" stroke-width="0.28" >12</text>
<line x1="319" y1="906" x2="319" y2="902.5" stroke="#000" stroke-width="2" />
<text x="319" y="927.3" font-size="17" text-anchor="middle" font-weight="normal" font-style="normal" fill="#000" stroke="#000" stroke-width="0.28" >16</text>
<line x1="79" y1="906" x2="82.5" y2="906" stroke="#000" stroke-width="2" />
<text x="74" y="912.7" font-size="17" text-anchor="end" font-weight="normal" font-style="normal" fill="#000" stroke="#000" stroke-width="0.28" >0.8</text>
<line x1="79" y1="870.86" x2="82.5" y2="870.86" stroke="#000" stroke-width="2" />
<text x="74" y="877.56" font-size="17" text-anchor="end" font-weight="normal" font-style="normal" fill="#000" stroke="#000" stroke-width="0.28" >0.9</text>
<line x1="79" y1="835.72" x2="82.5" y2="835.72" stroke="#000" stroke-width="2" />
<text x="74" y="842.42" font-size="17" text-anchor="end" font-weight="normal" font-style="normal" fill="#000" stroke="#000" stroke-width="0.28" >1</text>
<line x1="79" y1="800.58" x2="82.5" y2="800.58" stroke="#000" stroke-width="2" />
<text x="74" y="807.28" font-size="17" text-anchor="end" font-weight="normal" font-style="normal" fill="#000" stroke="#000" stroke-width="0.28" >1.1</text>
<line x1="79" y1="765.44" x2="82.5" y2="765.44" stroke="#000" stroke-width="2" />
<text x="74" y="772.14" font-size="17" text-anchor="end" font-weight="normal" font-style="normal" fill="#000" stroke="#000" stroke-width="0.28" >1.2</text>
<line x1="79" y1="730.3" x2="82.5" y2="730.3" stroke="#000" stroke-width="2" />
<text x="74" y="737" font-size="17" text-anchor="end" font-weight="normal" font-style="normal" fill="#000" stroke="#000" stroke-width="0.28" >1.3</text>
<line x1="104.3" y1="779.4" x2="127.8" y2="779.4" stroke="#ff0000" stroke-width="2.4" stroke-dasharray="2.5,2"/>
<text x="130" y="784.3" font-size="15" text-anchor="start" font-weight="normal" font-style="normal" fill="#000" stroke="#000" stroke-width="0.28" ><tspan font-family="Liberation Serif" font-style="italic">λ</tspan></text>
<text x="142.8" y="784.3" font-size="13.6" text-anchor="start" font-weight="normal" font-style="normal" fill="#000" stroke="#000" stroke-width="0.28" >=</text>
<text x="155.3" y="784.3" font-size="13.6" text-anchor="start" font-weight="normal" font-style="normal" fill="#000" stroke="#000" stroke-width="0.28" >635</text>
<text x="183.2" y="784.3" font-size="13.6" text-anchor="start" font-weight="normal" font-style="normal" fill="#000" stroke="#000" stroke-width="0.28" >nm</text>
<line x1="104.3" y1="796.8" x2="127.8" y2="796.8" stroke="#00ff00" stroke-width="2.4" stroke-dasharray="9,9"/>
<text x="130" y="801.7" font-size="15" text-anchor="start" font-weight="normal" font-style="normal" fill="#000" stroke="#000" stroke-width="0.28" ><tspan font-family="Liberation Serif" font-style="italic">λ</tspan></text>
<text x="142.8" y="801.7" font-size="13.6" text-anchor="start" font-weight="normal" font-style="normal" fill="#000" stroke="#000" stroke-width="0.28" >=</text>
<text x="155.3" y="801.7" font-size="13.6" text-anchor="start" font-weight="normal" font-style="normal" fill="#000" stroke="#000" stroke-width="0.28" >532</text>
<text x="183.2" y="801.7" font-size="13.6" text-anchor="start" font-weight="normal" font-style="normal" fill="#000" stroke="#000" stroke-width="0.28" >nm</text>
<line x1="104.3" y1="814.2" x2="127.8" y2="814.2" stroke="#0000ff" stroke-width="2.4" />
<text x="130" y="819.1" font-size="15" text-anchor="start" font-weight="normal" font-style="normal" fill="#000" stroke="#000" stroke-width="0.28" ><tspan font-family="Liberation Serif" font-style="italic">λ</tspan></text>
<text x="142.8" y="819.1" font-size="13.6" text-anchor="start" font-weight="normal" font-style="normal" fill="#000" stroke="#000" stroke-width="0.28" >=</text>
<text x="155.3" y="819.1" font-size="13.6" text-anchor="start" font-weight="normal" font-style="normal" fill="#000" stroke="#000" stroke-width="0.28" >450</text>
<text x="183.2" y="819.1" font-size="13.6" text-anchor="start" font-weight="normal" font-style="normal" fill="#000" stroke="#000" stroke-width="0.28" >nm</text>
<text x="199.5" y="950" font-size="18.3" text-anchor="middle" font-weight="normal" font-style="normal" fill="#000" stroke="#000" stroke-width="0.28" ><tspan font-family="Liberation Serif" font-style="italic">θ</tspan> (°)</text>
<text x="0" y="0" font-size="18.3" text-anchor="middle" font-weight="normal" font-style="normal" fill="#000" stroke="#000" stroke-width="0.28" transform="translate(43.3,817.5) rotate(-90)">FWHM (μm)</text>
<text x="351.4" y="710.8" font-size="30" text-anchor="start" font-weight="bold" font-style="normal" fill="#000" >e</text>
<polyline points="436,755.68 436.59,754.58 437.18,753.53 437.77,752.53 438.35,751.59 438.94,750.69 439.53,749.85 440.12,749.06 440.71,748.33 441.3,747.64 441.88,747 442.47,746.4 443.06,745.86 443.65,745.36 444.24,744.92 444.83,744.51 445.42,744.15 446,743.84 446.59,743.57 447.18,743.35 447.77,743.17 448.36,743.03 448.95,742.93 449.54,742.88 450.12,742.86 450.71,742.89 451.3,742.96 451.89,743.06 452.48,743.2 453.07,743.39 453.65,743.6 454.24,743.86 454.83,744.15 455.42,744.48 456.01,744.84 456.6,745.23 457.19,745.66 457.77,746.13 458.36,746.62 458.95,747.15 459.54,747.71 460.13,748.29 460.72,748.91 461.31,749.56 461.89,750.24 462.48,750.95 463.07,751.68 463.66,752.44 464.25,753.23 464.84,754.04 465.43,754.88 466.01,755.74 466.6,756.63 467.19,757.54 467.78,758.48 468.37,759.43 468.96,760.41 469.54,761.41 470.13,762.43 470.72,763.47 471.31,764.53 471.9,765.61 472.49,766.7 473.08,767.82 473.66,768.95 474.25,770.1 474.84,771.26 475.43,772.45 476.02,773.66 476.61,774.89 477.19,776.14 477.78,777.43 478.37,778.75 478.96,780.1 479.55,781.48 480.14,782.9 480.73,784.35 481.31,785.85 481.9,787.39 482.49,788.98 483.08,790.61 483.67,792.29 484.26,794.01 484.85,795.78 485.43,797.58 486.02,799.41 486.61,801.27 487.2,803.14 487.79,805.02 488.38,806.92 488.96,808.81 489.55,810.71 490.14,812.59 490.73,814.46 491.32,816.3 491.91,818.12 492.5,819.91 493.08,821.67 493.67,823.39 494.26,825.07 494.85,826.72 495.44,828.33 496.03,829.92 496.62,831.47 497.2,833 497.79,834.51 498.38,835.99 498.97,837.45 499.56,838.9 500.15,840.32 500.74,841.73 501.32,843.12 501.91,844.5 502.5,845.87 503.09,847.23 503.68,848.58 504.27,849.92 504.85,851.24 505.44,852.56 506.03,853.86 506.62,855.15 507.21,856.43 507.8,857.7 508.39,858.95 508.97,860.19 509.56,861.42 510.15,862.63 510.74,863.83 511.33,865.02 511.92,866.19 512.5,867.34 513.09,868.49 513.68,869.61 514.27,870.72 514.86,871.82 515.45,872.9 516.04,873.96 516.62,875.01 517.21,876.04 517.8,877.05 518.39,878.05 518.98,879.03 519.57,879.99 520.16,880.93 520.74,881.86 521.33,882.77 521.92,883.65 522.51,884.52 523.1,885.37 523.69,886.2 524.27,887.01 524.86,887.8 525.45,888.57 526.04,889.32 526.63,890.05 527.22,890.76 527.81,891.44 528.39,892.11 528.98,892.75 529.57,893.37 530.16,893.97 530.75,894.55 531.34,895.1 531.93,895.63 532.51,896.14 533.1,896.63 533.69,897.09 534.28,897.54 534.87,897.96 535.46,898.36 536.04,898.74 536.63,899.11 537.22,899.45 537.81,899.77 538.4,900.07 538.99,900.35 539.58,900.61 540.16,900.86 540.75,901.08 541.34,901.29 541.93,901.48 542.52,901.65 543.11,901.8 543.7,901.93 544.28,902.05 544.87,902.15 545.46,902.23 546.05,902.3 546.64,902.35 547.23,902.39 547.81,902.41 548.4,902.41 548.99,902.4 549.58,902.37 550.17,902.33 550.76,902.27 551.35,902.2 551.93,902.11 552.52,902.01 553.11,901.9 553.7,901.77 554.29,901.63 554.88,901.48 555.47,901.31 556.05,901.14 556.64,900.94 557.23,900.74 557.82,900.53 558.41,900.3 559,900.06 559.59,899.82 560.17,899.56 560.76,899.29 561.35,899.01 561.94,898.71 562.53,898.41 563.12,898.1 563.7,897.78 564.29,897.45 564.88,897.1 565.47,896.75 566.06,896.39 566.65,896.02 567.24,895.64 567.82,895.25 568.41,894.85 569,894.44 569.59,894.02 570.18,893.59 570.77,893.16 571.36,892.71 571.94,892.26 572.53,891.8 573.12,891.32 573.71,890.84 574.3,890.36 574.89,889.86 575.47,889.36 576.06,888.85 576.65,888.33 577.24,887.8 577.83,887.26 578.42,886.72 579.01,886.17 579.59,885.61 580.18,885.05 580.77,884.48 581.36,883.9 581.95,883.31 582.54,882.72 583.12,882.12 583.71,881.52 584.3,880.91 584.89,880.29 585.48,879.66 586.07,879.03 586.66,878.4 587.24,877.75 587.83,877.1 588.42,876.45 589.01,875.79 589.6,875.12 590.19,874.45 590.78,873.78 591.36,873.1 591.95,872.41 592.54,871.72 593.13,871.02 593.72,870.32 594.31,869.62 594.89,868.91 595.48,868.19 596.07,867.47 596.66,866.75 597.25,866.02 597.84,865.29 598.43,864.56 599.01,863.82 599.6,863.07 600.19,862.33 600.78,861.58 601.37,860.83 601.96,860.07 602.55,859.31 603.13,858.55 603.72,857.78 604.31,857.01 604.9,856.24 605.49,855.47 606.08,854.69 606.66,853.91 607.25,853.13 607.84,852.35 608.43,851.57 609.02,850.78 609.61,849.99 610.2,849.2 610.78,848.41 611.37,847.61 611.96,846.82 612.55,846.02 613.14,845.22 613.73,844.42 614.32,843.62 614.9,842.82 615.49,842.02 616.08,841.22 616.67,840.41 617.26,839.61 617.85,838.81 618.43,838 619.02,837.2 619.61,836.39 620.2,835.59 620.79,834.78 621.38,833.98 621.97,833.18 622.55,832.37 623.14,831.57 623.73,830.77 624.32,829.97 624.91,829.17 625.5,828.37 626.09,827.57 626.67,826.77 627.26,825.97 627.85,825.18 628.44,824.39 629.03,823.59 629.62,822.8 630.2,822.02 630.79,821.23 631.38,820.45 631.97,819.66 632.56,818.88 633.15,818.11 633.74,817.33 634.32,816.56 634.91,815.79 635.5,815.02 636.09,814.26 636.68,813.49 637.27,812.73 637.86,811.98 638.44,811.23 639.03,810.48 639.62,809.73 640.21,808.99 640.8,808.25 641.39,807.52 641.97,806.79 642.56,806.06 643.15,805.34 643.74,804.62 644.33,803.9 644.92,803.19 645.51,802.49 646.09,801.79 646.68,801.09 647.27,800.4 647.86,799.71 648.45,799.03 649.04,798.35 649.63,797.68 650.21,797.02 650.8,796.36 651.39,795.7 651.98,795.05 652.57,794.41 653.16,793.77 653.75,793.14 654.33,792.51 654.92,791.89 655.51,791.28 656.1,790.67 656.69,790.07 657.28,789.47 657.86,788.89 658.45,788.31 659.04,787.73 659.63,787.16 660.22,786.6 660.81,786.05 661.4,785.51 661.98,784.97 662.57,784.44 663.16,783.91 663.75,783.4 664.34,782.89 664.93,782.39 665.51,781.9 666.1,781.41 666.69,780.94 667.28,780.47 667.87,780.01 668.46,779.56 669.05,779.12 669.63,778.68 670.22,778.26 670.81,777.84 671.4,777.44" fill="none" stroke="#0000ff" stroke-width="3" stroke-linejoin="round" />
<polyline points="436,754.97 436.59,753.87 437.18,752.82 437.77,751.82 438.35,750.88 438.94,749.98 439.53,749.14 440.12,748.35 440.71,747.61 441.3,746.93 441.88,746.29 442.47,745.69 443.06,745.15 443.65,744.65 444.24,744.21 444.83,743.8 445.42,743.44 446,743.13 446.59,742.86 447.18,742.64 447.77,742.46 448.36,742.32 448.95,742.22 449.54,742.17 450.12,742.15 450.71,742.18 451.3,742.25 451.89,742.35 452.48,742.49 453.07,742.68 453.65,742.89 454.24,743.15 454.83,743.44 455.42,743.77 456.01,744.13 456.6,744.52 457.19,744.95 457.77,745.42 458.36,745.91 458.95,746.44 459.54,747 460.13,747.58 460.72,748.2 461.31,748.85 461.89,749.53 462.48,750.24 463.07,750.97 463.66,751.73 464.25,752.52 464.84,753.33 465.43,754.17 466.01,755.03 466.6,755.92 467.19,756.83 467.78,757.76 468.37,758.72 468.96,759.7 469.54,760.7 470.13,761.72 470.72,762.76 471.31,763.82 471.9,764.9 472.49,765.99 473.08,767.11 473.66,768.24 474.25,769.39 474.84,770.55 475.43,771.74 476.02,772.95 476.61,774.18 477.19,775.43 477.78,776.72 478.37,778.04 478.96,779.39 479.55,780.77 480.14,782.19 480.73,783.64 481.31,785.14 481.9,786.68 482.49,788.27 483.08,789.9 483.67,791.58 484.26,793.3 484.85,795.07 485.43,796.87 486.02,798.7 486.61,800.56 487.2,802.43 487.79,804.31 488.38,806.21 488.96,808.1 489.55,809.99 490.14,811.88 490.73,813.75 491.32,815.59 491.91,817.41 492.5,819.2 493.08,820.96 493.67,822.68 494.26,824.36 494.85,826.01 495.44,827.62 496.03,829.21 496.62,830.76 497.2,832.29 497.79,833.8 498.38,835.28 498.97,836.74 499.56,838.19 500.15,839.61 500.74,841.02 501.32,842.41 501.91,843.79 502.5,845.16 503.09,846.52 503.68,847.87 504.27,849.21 504.85,850.53 505.44,851.85 506.03,853.15 506.62,854.44 507.21,855.72 507.8,856.99 508.39,858.24 508.97,859.48 509.56,860.71 510.15,861.92 510.74,863.12 511.33,864.31 511.92,865.48 512.5,866.63 513.09,867.78 513.68,868.9 514.27,870.01 514.86,871.11 515.45,872.19 516.04,873.25 516.62,874.3 517.21,875.33 517.8,876.34 518.39,877.34 518.98,878.32 519.57,879.28 520.16,880.22 520.74,881.15 521.33,882.05 521.92,882.94 522.51,883.81 523.1,884.66 523.69,885.49 524.27,886.3 524.86,887.09 525.45,887.86 526.04,888.61 526.63,889.34 527.22,890.05 527.81,890.73 528.39,891.4 528.98,892.04 529.57,892.66 530.16,893.26 530.75,893.84 531.34,894.39 531.93,894.92 532.51,895.43 533.1,895.92 533.69,896.38 534.28,896.83 534.87,897.25 535.46,897.65 536.04,898.03 536.63,898.4 537.22,898.74 537.81,899.06 538.4,899.36 538.99,899.64 539.58,899.9 540.16,900.15 540.75,900.37 541.34,900.58 541.93,900.77 542.52,900.94 543.11,901.09 543.7,901.22 544.28,901.34 544.87,901.44 545.46,901.52 546.05,901.59 546.64,901.64 547.23,901.68 547.81,901.7 548.4,901.7 548.99,901.69 549.58,901.66 550.17,901.62 550.76,901.56 551.35,901.49 551.93,901.4 552.52,901.3 553.11,901.19 553.7,901.06 554.29,900.92 554.88,900.77 555.47,900.6 556.05,900.43 556.64,900.23 557.23,900.03 557.82,899.82 558.41,899.59 559,899.35 559.59,899.11 560.17,898.85 560.76,898.58 561.35,898.3 561.94,898 562.53,897.7 563.12,897.39 563.7,897.07 564.29,896.74 564.88,896.39 565.47,896.04 566.06,895.68 566.65,895.31 567.24,894.93 567.82,894.54 568.41,894.14 569,893.73 569.59,893.31 570.18,892.88 570.77,892.45 571.36,892 571.94,891.55 572.53,891.08 573.12,890.61 573.71,890.13 574.3,889.65 574.89,889.15 575.47,888.65 576.06,888.14 576.65,887.62 577.24,887.09 577.83,886.55 578.42,886.01 579.01,885.46 579.59,884.9 580.18,884.34 580.77,883.77 581.36,883.19 581.95,882.6 582.54,882.01 583.12,881.41 583.71,880.81 584.3,880.2 584.89,879.58 585.48,878.95 586.07,878.32 586.66,877.69 587.24,877.04 587.83,876.39 588.42,875.74 589.01,875.08 589.6,874.41 590.19,873.74 590.78,873.07 591.36,872.39 591.95,871.7 592.54,871.01 593.13,870.31 593.72,869.61 594.31,868.91 594.89,868.2 595.48,867.48 596.07,866.76 596.66,866.04 597.25,865.31 597.84,864.58 598.43,863.85 599.01,863.11 599.6,862.36 600.19,861.62 600.78,860.87 601.37,860.12 601.96,859.36 602.55,858.6 603.13,857.84 603.72,857.07 604.31,856.3 604.9,855.53 605.49,854.76 606.08,853.98 606.66,853.2 607.25,852.42 607.84,851.64 608.43,850.85 609.02,850.07 609.61,849.28 610.2,848.49 610.78,847.7 611.37,846.9 611.96,846.11 612.55,845.31 613.14,844.51 613.73,843.71 614.32,842.91 614.9,842.11 615.49,841.31 616.08,840.51 616.67,839.7 617.26,838.9 617.85,838.1 618.43,837.29 619.02,836.49 619.61,835.68 620.2,834.88 620.79,834.07 621.38,833.27 621.97,832.47 622.55,831.66 623.14,830.86 623.73,830.06 624.32,829.26 624.91,828.46 625.5,827.66 626.09,826.86 626.67,826.06 627.26,825.26 627.85,824.47 628.44,823.68 629.03,822.88 629.62,822.09 630.2,821.31 630.79,820.52 631.38,819.74 631.97,818.95 632.56,818.17 633.15,817.4 633.74,816.62 634.32,815.85 634.91,815.08 635.5,814.31 636.09,813.54 636.68,812.78 637.27,812.02 637.86,811.27 638.44,810.52 639.03,809.77 639.62,809.02 640.21,808.28 640.8,807.54 641.39,806.81 641.97,806.08 642.56,805.35 643.15,804.63 643.74,803.91 644.33,803.19 644.92,802.48 645.51,801.78 646.09,801.08 646.68,800.38 647.27,799.69 647.86,799 648.45,798.32 649.04,797.64 649.63,796.97 650.21,796.31 650.8,795.65 651.39,794.99 651.98,794.34 652.57,793.7 653.16,793.06 653.75,792.43 654.33,791.8 654.92,791.18 655.51,790.57 656.1,789.96 656.69,789.36 657.28,788.76 657.86,788.18 658.45,787.6 659.04,787.02 659.63,786.45 660.22,785.89 660.81,785.34 661.4,784.8 661.98,784.26 662.57,783.73 663.16,783.2 663.75,782.69 664.34,782.18 664.93,781.68 665.51,781.19 666.1,780.7 666.69,780.23 667.28,779.76 667.87,779.3 668.46,778.85 669.05,778.41 669.63,777.97 670.22,777.55 670.81,777.13 671.4,776.73" fill="none" stroke="#00ff00" stroke-width="3" stroke-linejoin="round" stroke-dasharray="12,12"/>
<polyline points="436,750.94 436.59,750.14 437.18,749.38 437.77,748.66 438.35,747.97 438.94,747.33 439.53,746.73 440.12,746.16 440.71,745.64 441.3,745.15 441.88,744.69 442.47,744.28 443.06,743.9 443.65,743.55 444.24,743.24 444.83,742.97 445.42,742.73 446,742.52 446.59,742.34 447.18,742.2 447.77,742.09 448.36,742.01 448.95,741.96 449.54,741.95 450.12,741.96 450.71,742 451.3,742.07 451.89,742.17 452.48,742.3 453.07,742.45 453.65,742.64 454.24,742.84 454.83,743.08 455.42,743.34 456.01,743.62 456.6,743.93 457.19,744.27 457.77,744.62 458.36,745 458.95,745.41 459.54,745.83 460.13,746.28 460.72,746.74 461.31,747.23 461.89,747.74 462.48,748.27 463.07,748.81 463.66,749.38 464.25,749.96 464.84,750.56 465.43,751.18 466.01,751.81 466.6,752.46 467.19,753.12 467.78,753.8 468.37,754.5 468.96,755.21 469.54,755.93 470.13,756.67 470.72,757.41 471.31,758.17 471.9,758.95 472.49,759.73 473.08,760.53 473.66,761.34 474.25,762.16 474.84,762.99 475.43,763.84 476.02,764.69 476.61,765.56 477.19,766.44 477.78,767.32 478.37,768.22 478.96,769.13 479.55,770.06 480.14,770.99 480.73,771.93 481.31,772.88 481.9,773.84 482.49,774.82 483.08,775.8 483.67,776.79 484.26,777.79 484.85,778.8 485.43,779.82 486.02,780.85 486.61,781.89 487.2,782.94 487.79,783.99 488.38,785.06 488.96,786.13 489.55,787.21 490.14,788.3 490.73,789.4 491.32,790.5 491.91,791.62 492.5,792.74 493.08,793.86 493.67,794.99 494.26,796.13 494.85,797.27 495.44,798.41 496.03,799.56 496.62,800.7 497.2,801.85 497.79,803 498.38,804.15 498.97,805.3 499.56,806.45 500.15,807.59 500.74,808.73 501.32,809.87 501.91,811.01 502.5,812.14 503.09,813.27 503.68,814.4 504.27,815.52 504.85,816.65 505.44,817.76 506.03,818.88 506.62,819.99 507.21,821.1 507.8,822.21 508.39,823.31 508.97,824.41 509.56,825.5 510.15,826.6 510.74,827.69 511.33,828.78 511.92,829.86 512.5,830.94 513.09,832.02 513.68,833.1 514.27,834.17 514.86,835.24 515.45,836.31 516.04,837.37 516.62,838.43 517.21,839.49 517.8,840.54 518.39,841.59 518.98,842.64 519.57,843.68 520.16,844.73 520.74,845.76 521.33,846.8 521.92,847.83 522.51,848.86 523.1,849.89 523.69,850.91 524.27,851.93 524.86,852.95 525.45,853.95 526.04,854.96 526.63,855.96 527.22,856.95 527.81,857.93 528.39,858.9 528.98,859.87 529.57,860.83 530.16,861.77 530.75,862.71 531.34,863.64 531.93,864.55 532.51,865.45 533.1,866.34 533.69,867.21 534.28,868.07 534.87,868.92 535.46,869.75 536.04,870.56 536.63,871.36 537.22,872.14 537.81,872.91 538.4,873.66 538.99,874.4 539.58,875.11 540.16,875.81 540.75,876.5 541.34,877.16 541.93,877.81 542.52,878.44 543.11,879.05 543.7,879.64 544.28,880.21 544.87,880.76 545.46,881.3 546.05,881.81 546.64,882.31 547.23,882.78 547.81,883.23 548.4,883.67 548.99,884.08 549.58,884.47 550.17,884.84 550.76,885.18 551.35,885.51 551.93,885.81 552.52,886.09 553.11,886.35 553.7,886.58 554.29,886.79 554.88,886.98 555.47,887.14 556.05,887.28 556.64,887.4 557.23,887.49 557.82,887.56 558.41,887.61 559,887.63 559.59,887.64 560.17,887.62 560.76,887.58 561.35,887.51 561.94,887.43 562.53,887.33 563.12,887.21 563.7,887.06 564.29,886.9 564.88,886.72 565.47,886.52 566.06,886.3 566.65,886.06 567.24,885.81 567.82,885.54 568.41,885.25 569,884.94 569.59,884.62 570.18,884.29 570.77,883.93 571.36,883.57 571.94,883.19 572.53,882.79 573.12,882.38 573.71,881.96 574.3,881.52 574.89,881.07 575.47,880.61 576.06,880.14 576.65,879.65 577.24,879.16 577.83,878.65 578.42,878.14 579.01,877.61 579.59,877.07 580.18,876.53 580.77,875.97 581.36,875.41 581.95,874.84 582.54,874.26 583.12,873.67 583.71,873.08 584.3,872.48 584.89,871.87 585.48,871.26 586.07,870.65 586.66,870.02 587.24,869.4 587.83,868.77 588.42,868.13 589.01,867.49 589.6,866.85 590.19,866.2 590.78,865.56 591.36,864.91 591.95,864.25 592.54,863.6 593.13,862.94 593.72,862.27 594.31,861.61 594.89,860.94 595.48,860.27 596.07,859.6 596.66,858.93 597.25,858.25 597.84,857.57 598.43,856.89 599.01,856.2 599.6,855.51 600.19,854.82 600.78,854.13 601.37,853.44 601.96,852.74 602.55,852.04 603.13,851.34 603.72,850.64 604.31,849.93 604.9,849.23 605.49,848.52 606.08,847.81 606.66,847.09 607.25,846.38 607.84,845.66 608.43,844.94 609.02,844.22 609.61,843.5 610.2,842.78 610.78,842.05 611.37,841.33 611.96,840.6 612.55,839.87 613.14,839.14 613.73,838.4 614.32,837.67 614.9,836.93 615.49,836.2 616.08,835.46 616.67,834.72 617.26,833.98 617.85,833.23 618.43,832.49 619.02,831.75 619.61,831 620.2,830.25 620.79,829.51 621.38,828.76 621.97,828.01 622.55,827.26 623.14,826.51 623.73,825.76 624.32,825.01 624.91,824.26 625.5,823.5 626.09,822.75 626.67,822 627.26,821.24 627.85,820.49 628.44,819.74 629.03,818.98 629.62,818.23 630.2,817.47 630.79,816.72 631.38,815.97 631.97,815.21 632.56,814.46 633.15,813.71 633.74,812.96 634.32,812.2 634.91,811.45 635.5,810.7 636.09,809.95 636.68,809.2 637.27,808.45 637.86,807.7 638.44,806.96 639.03,806.21 639.62,805.47 640.21,804.72 640.8,803.98 641.39,803.24 641.97,802.5 642.56,801.76 643.15,801.02 643.74,800.28 644.33,799.55 644.92,798.81 645.51,798.08 646.09,797.35 646.68,796.62 647.27,795.9 647.86,795.18 648.45,794.46 649.04,793.75 649.63,793.05 650.21,792.35 650.8,791.66 651.39,790.97 651.98,790.3 652.57,789.63 653.16,788.97 653.75,788.32 654.33,787.69 654.92,787.06 655.51,786.45 656.1,785.85 656.69,785.26 657.28,784.68 657.86,784.12 658.45,783.58 659.04,783.05 659.63,782.53 660.22,782.03 660.81,781.55 661.4,781.09 661.98,780.65 662.57,780.22 663.16,779.82 663.75,779.43 664.34,779.07 664.93,778.73 665.51,778.41 666.1,778.11 666.69,777.84 667.28,777.59 667.87,777.36 668.46,777.16 669.05,776.99 669.63,776.84 670.22,776.72 670.81,776.62 671.4,776.56" fill="none" stroke="#ff0000" stroke-width="3.5" stroke-linejoin="round" stroke-dasharray="3.5,4"/>
<path d="M436,730.25 L436,907.8 L671.4,907.8" fill="none" stroke="#000" stroke-width="2" stroke-linecap="square"/>
<line x1="436" y1="907.8" x2="436" y2="904.3" stroke="#000" stroke-width="2" />
<text x="436" y="929.1" font-size="17" text-anchor="middle" font-weight="normal" font-style="normal" fill="#000" stroke="#000" stroke-width="0.28" >380</text>
<line x1="494.85" y1="907.8" x2="494.85" y2="904.3" stroke="#000" stroke-width="2" />
<text x="494.85" y="929.1" font-size="17" text-anchor="middle" font-weight="normal" font-style="normal" fill="#000" stroke="#000" stroke-width="0.28" >480</text>
<line x1="553.7" y1="907.8" x2="553.7" y2="904.3" stroke="#000" stroke-width="2" />
<text x="553.7" y="929.1" font-size="17" text-anchor="middle" font-weight="normal" font-style="normal" fill="#000" stroke="#000" stroke-width="0.28" >580</text>
<line x1="612.55" y1="907.8" x2="612.55" y2="904.3" stroke="#000" stroke-width="2" />
<text x="612.55" y="929.1" font-size="17" text-anchor="middle" font-weight="normal" font-style="normal" fill="#000" stroke="#000" stroke-width="0.28" >680</text>
<line x1="671.4" y1="907.8" x2="671.4" y2="904.3" stroke="#000" stroke-width="2" />
<text x="671.4" y="929.1" font-size="17" text-anchor="middle" font-weight="normal" font-style="normal" fill="#000" stroke="#000" stroke-width="0.28" >780</text>
<line x1="436" y1="907.8" x2="439.5" y2="907.8" stroke="#000" stroke-width="2" />
<text x="431" y="914.5" font-size="17" text-anchor="end" font-weight="normal" font-style="normal" fill="#000" stroke="#000" stroke-width="0.28" >0</text>
<line x1="436" y1="863.41" x2="439.5" y2="863.41" stroke="#000" stroke-width="2" />
<text x="431" y="870.11" font-size="17" text-anchor="end" font-weight="normal" font-style="normal" fill="#000" stroke="#000" stroke-width="0.28" >25</text>
<line x1="436" y1="819.02" x2="439.5" y2="819.02" stroke="#000" stroke-width="2" />
<text x="431" y="825.73" font-size="17" text-anchor="end" font-weight="normal" font-style="normal" fill="#000" stroke="#000" stroke-width="0.28" >50</text>
<line x1="436" y1="774.64" x2="439.5" y2="774.64" stroke="#000" stroke-width="2" />
<text x="431" y="781.34" font-size="17" text-anchor="end" font-weight="normal" font-style="normal" fill="#000" stroke="#000" stroke-width="0.28" >75</text>
<line x1="436" y1="730.25" x2="439.5" y2="730.25" stroke="#000" stroke-width="2" />
<text x="431" y="736.95" font-size="17" text-anchor="end" font-weight="normal" font-style="normal" fill="#000" stroke="#000" stroke-width="0.28" >100</text>
<line x1="533.8" y1="741" x2="556.7" y2="741" stroke="#ff0000" stroke-width="2.4" stroke-dasharray="2.5,2"/>
<text x="558.6" y="746.8" font-size="16.5" text-anchor="start" font-weight="normal" font-style="normal" fill="#000" stroke="#000" stroke-width="0.28" ><tspan font-family="Liberation Serif" font-style="italic">ϕ</tspan></text>
<text x="571.6" y="746.7" font-size="15.5" text-anchor="start" font-weight="normal" font-style="normal" fill="#000" stroke="#000" stroke-width="0.28" >=</text>
<text x="585" y="746.7" font-size="15.5" text-anchor="start" font-weight="normal" font-style="normal" fill="#000" stroke="#000" stroke-width="0.28" >16</text>
<text x="606.5" y="746.7" font-size="15" text-anchor="start" font-weight="normal" font-style="normal" fill="#000" stroke="#000" stroke-width="0.28" >°</text>
<line x1="533.8" y1="760.5" x2="556.7" y2="760.5" stroke="#00ff00" stroke-width="2.4" stroke-dasharray="9,9"/>
<text x="558.6" y="766.3" font-size="16.5" text-anchor="start" font-weight="normal" font-style="normal" fill="#000" stroke="#000" stroke-width="0.28" ><tspan font-family="Liberation Serif" font-style="italic">ϕ</tspan></text>
<text x="571.6" y="766.2" font-size="15.5" text-anchor="start" font-weight="normal" font-style="normal" fill="#000" stroke="#000" stroke-width="0.28" >=</text>
<text x="585" y="766.2" font-size="15.5" text-anchor="start" font-weight="normal" font-style="normal" fill="#000" stroke="#000" stroke-width="0.28" >8</text>
<text x="597.8" y="766.2" font-size="15" text-anchor="start" font-weight="normal" font-style="normal" fill="#000" stroke="#000" stroke-width="0.28" >°</text>
<line x1="533.8" y1="780" x2="556.7" y2="780" stroke="#0000ff" stroke-width="2.4" />
<text x="558.6" y="785.8" font-size="16.5" text-anchor="start" font-weight="normal" font-style="normal" fill="#000" stroke="#000" stroke-width="0.28" ><tspan font-family="Liberation Serif" font-style="italic">ϕ</tspan></text>
<text x="571.6" y="785.7" font-size="15.5" text-anchor="start" font-weight="normal" font-style="normal" fill="#000" stroke="#000" stroke-width="0.28" >=</text>
<text x="585" y="785.7" font-size="15.5" text-anchor="start" font-weight="normal" font-style="normal" fill="#000" stroke="#000" stroke-width="0.28" >0</text>
<text x="597.8" y="785.7" font-size="15" text-anchor="start" font-weight="normal" font-style="normal" fill="#000" stroke="#000" stroke-width="0.28" >°</text>
<text x="554" y="950" font-size="18.3" text-anchor="middle" font-weight="normal" font-style="normal" fill="#000" stroke="#000" stroke-width="0.28" ><tspan font-family="Liberation Serif" font-style="italic">λ</tspan> (nm)</text>
<text x="0" y="0" font-size="18.5" text-anchor="middle" font-weight="normal" font-style="normal" fill="#000" stroke="#000" stroke-width="0.28" transform="translate(396.8,819) rotate(-90)"><tspan font-style="italic">T</tspan> (%)</text></svg></body></html>
